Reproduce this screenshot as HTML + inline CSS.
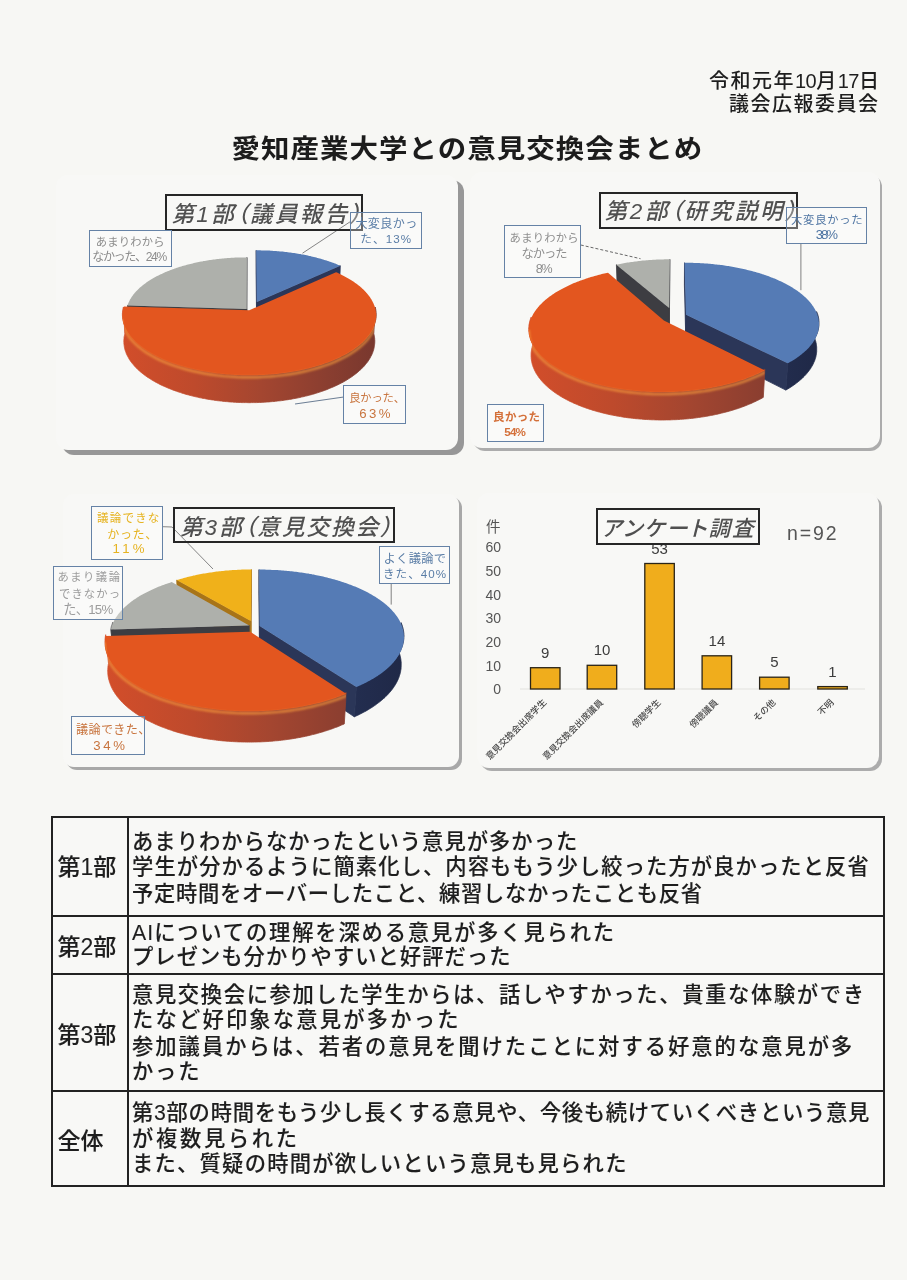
<!DOCTYPE html>
<html lang="ja"><head><meta charset="utf-8"><title>愛知産業大学との意見交換会まとめ</title>
<style>
html,body{margin:0;padding:0}
body{width:907px;height:1280px;position:relative;overflow:hidden;background:#f7f7f4;font-family:"Liberation Sans","Noto Sans CJK JP",sans-serif;color:#1e1e1e}
.a{position:absolute;white-space:nowrap}
.hdr{font-size:20px;line-height:1;color:#1e1e1e;letter-spacing:1.5px;font-weight:500}
.ttl{font-size:28.5px;font-weight:bold;line-height:1;color:#1c1c1c;letter-spacing:1.0px;transform:scaleY(0.92);transform-origin:0 0}
.panel{position:absolute;border-radius:12px;background:#f8f8f6}
.ctitle{position:absolute;border:2px solid #262626;box-sizing:border-box;font-style:italic;font-weight:500;color:#505050;font-size:22.5px;line-height:1;letter-spacing:3px;font-feature-settings:"palt"}
.ctitle span{position:absolute;white-space:nowrap}
.lbl{position:absolute;border:1.5px solid #6582a6;box-sizing:border-box;background:rgba(255,255,255,0.3)}
.lt{position:absolute;white-space:nowrap;line-height:1;font-family:"Liberation Sans","Noto Sans CJK JP",sans-serif}
.tb{position:absolute;font-size:21.3px;line-height:1;color:#1e1e1e;font-weight:500;-webkit-text-stroke:0.1px #1e1e1e}
.hd{position:absolute;font-size:23px;line-height:1;color:#1e1e1e;font-weight:500;-webkit-text-stroke:0.1px #1e1e1e}
.ln{position:absolute;background:#222}
</style></head>
<body>
<div class="a hdr" style="left:709px;top:71px">令和元年<span style="letter-spacing:-0.5px">10</span>月<span style="letter-spacing:-0.5px">17</span>日</div>
<div class="a hdr" style="left:729px;top:93.5px">議会広報委員会</div>
<div class="a ttl" style="left:231.5px;top:135.5px">愛知産業大学との意見交換会まとめ</div>

<!-- panels -->
<div class="panel" style="left:62px;top:180px;width:401.5px;height:274.5px;background:#979797;border-radius:12px"></div>
<div class="panel" style="left:56px;top:175px;width:401.5px;height:274.5px;border-radius:12px"></div>
<div class="panel" style="left:472.5px;top:175px;width:409.5px;height:276px;background:#acacac;border-radius:12px"></div>
<div class="panel" style="left:470px;top:172px;width:409.5px;height:276px;border-radius:12px"></div>
<div class="panel" style="left:65.5px;top:496.5px;width:396px;height:273px;background:#a8a8a8;border-radius:11px"></div>
<div class="panel" style="left:63px;top:494px;width:396px;height:273px;border-radius:11px"></div>
<div class="panel" style="left:479.5px;top:495.5px;width:402px;height:275px;background:#acacac;border-radius:12px"></div>
<div class="panel" style="left:477px;top:493px;width:402px;height:275px;border-radius:12px"></div>

<svg class="a" style="left:0;top:0" width="907" height="1280" viewBox="0 0 907 1280">
<defs>
<linearGradient id="wo1" gradientUnits="userSpaceOnUse" x1="115" y1="0" x2="380" y2="0"><stop offset="0" stop-color="#d44e2a"/><stop offset="0.3" stop-color="#be4a2c"/><stop offset="0.55" stop-color="#a44630"/><stop offset="0.8" stop-color="#8a3e30"/><stop offset="1" stop-color="#77372e"/></linearGradient>
<linearGradient id="wb1" gradientUnits="userSpaceOnUse" x1="115" y1="0" x2="380" y2="0"><stop offset="0" stop-color="#34446e"/><stop offset="0.5" stop-color="#2a3760"/><stop offset="1" stop-color="#1f2846"/></linearGradient>
<linearGradient id="wg1" gradientUnits="userSpaceOnUse" x1="115" y1="0" x2="380" y2="0"><stop offset="0" stop-color="#707070"/><stop offset="1" stop-color="#454545"/></linearGradient>
<linearGradient id="wy1" gradientUnits="userSpaceOnUse" x1="115" y1="0" x2="380" y2="0"><stop offset="0" stop-color="#c88a14"/><stop offset="1" stop-color="#9a6a10"/></linearGradient>

<linearGradient id="wo2" gradientUnits="userSpaceOnUse" x1="520" y1="0" x2="825" y2="0"><stop offset="0" stop-color="#d44e2a"/><stop offset="0.3" stop-color="#be4a2c"/><stop offset="0.55" stop-color="#a44630"/><stop offset="0.8" stop-color="#8a3e30"/><stop offset="1" stop-color="#77372e"/></linearGradient>
<linearGradient id="wb2" gradientUnits="userSpaceOnUse" x1="520" y1="0" x2="825" y2="0"><stop offset="0" stop-color="#34446e"/><stop offset="0.5" stop-color="#2a3760"/><stop offset="1" stop-color="#1f2846"/></linearGradient>
<linearGradient id="wg2" gradientUnits="userSpaceOnUse" x1="520" y1="0" x2="825" y2="0"><stop offset="0" stop-color="#707070"/><stop offset="1" stop-color="#454545"/></linearGradient>
<linearGradient id="wy2" gradientUnits="userSpaceOnUse" x1="520" y1="0" x2="825" y2="0"><stop offset="0" stop-color="#c88a14"/><stop offset="1" stop-color="#9a6a10"/></linearGradient>

<linearGradient id="wo3" gradientUnits="userSpaceOnUse" x1="100" y1="0" x2="410" y2="0"><stop offset="0" stop-color="#d44e2a"/><stop offset="0.3" stop-color="#be4a2c"/><stop offset="0.55" stop-color="#a44630"/><stop offset="0.8" stop-color="#8a3e30"/><stop offset="1" stop-color="#77372e"/></linearGradient>
<linearGradient id="wb3" gradientUnits="userSpaceOnUse" x1="100" y1="0" x2="410" y2="0"><stop offset="0" stop-color="#34446e"/><stop offset="0.5" stop-color="#2a3760"/><stop offset="1" stop-color="#1f2846"/></linearGradient>
<linearGradient id="wg3" gradientUnits="userSpaceOnUse" x1="100" y1="0" x2="410" y2="0"><stop offset="0" stop-color="#707070"/><stop offset="1" stop-color="#454545"/></linearGradient>
<linearGradient id="wy3" gradientUnits="userSpaceOnUse" x1="100" y1="0" x2="410" y2="0"><stop offset="0" stop-color="#c88a14"/><stop offset="1" stop-color="#9a6a10"/></linearGradient>
<filter id="blur1" x="-5%" y="-50%" width="110%" height="200%"><feGaussianBlur stdDeviation="0.8"/></filter></defs>
<polygon points="256.8,302.1 256.2,250.3 256.1,274.1 256.7,327.5" fill="#2b3658" stroke="#2b3658" stroke-width="0.8" stroke-linejoin="round"/>
<polygon points="256.8,302.1 340.3,265.7 339.4,290.0 256.7,327.5" fill="#2b3658" stroke="#2b3658" stroke-width="0.8" stroke-linejoin="round"/>
<polygon points="256.8,302.1 256.2,250.3 257.5,250.3 258.9,250.3 260.2,250.3 261.5,250.4 262.8,250.4 264.2,250.4 265.5,250.5 266.8,250.5 268.1,250.6 269.5,250.6 270.8,250.7 272.1,250.8 273.4,250.9 274.7,251.0 276.1,251.1 277.4,251.2 278.7,251.3 280.0,251.4 281.3,251.5 282.6,251.6 283.9,251.8 285.2,251.9 286.5,252.1 287.8,252.2 289.1,252.4 290.3,252.6 291.6,252.7 292.9,252.9 294.2,253.1 295.4,253.3 296.7,253.5 298.0,253.7 299.2,253.9 300.5,254.1 301.7,254.4 303.0,254.6 304.2,254.8 305.4,255.1 306.7,255.3 307.9,255.6 309.1,255.9 310.3,256.1 311.5,256.4 312.7,256.7 313.9,257.0 315.1,257.3 316.3,257.6 317.4,257.9 318.6,258.2 319.8,258.5 320.9,258.8 322.1,259.2 323.2,259.5 324.3,259.9 325.5,260.2 326.6,260.6 327.7,260.9 328.8,261.3 329.9,261.7 331.0,262.0 332.0,262.4 333.1,262.8 334.2,263.2 335.2,263.6 336.3,264.0 337.3,264.4 338.3,264.9 339.3,265.3 340.3,265.7" fill="#557bb5"/>
<polygon points="246.7,308.9 127.5,305.4 128.8,330.8 246.7,334.4" fill="#3d3d42" stroke="#3d3d42" stroke-width="0.8" stroke-linejoin="round"/>
<polygon points="246.7,308.9 246.9,257.4 246.9,281.4 246.7,334.4" fill="#3d3d42" stroke="#3d3d42" stroke-width="0.8" stroke-linejoin="round"/>
<polygon points="246.7,308.9 127.5,305.4 127.7,304.7 128.0,304.1 128.2,303.4 128.5,302.8 128.8,302.2 129.1,301.5 129.4,300.9 129.7,300.2 130.0,299.6 130.4,299.0 130.8,298.4 131.2,297.7 131.6,297.1 132.0,296.5 132.4,295.9 132.9,295.3 133.4,294.6 133.8,294.0 134.3,293.4 134.8,292.8 135.4,292.2 135.9,291.6 136.5,291.0 137.0,290.5 137.6,289.9 138.2,289.3 138.8,288.7 139.4,288.1 140.0,287.6 140.7,287.0 141.3,286.5 142.0,285.9 142.7,285.3 143.4,284.8 144.1,284.2 144.8,283.7 145.6,283.2 146.3,282.6 147.1,282.1 147.8,281.6 148.6,281.1 149.4,280.6 150.2,280.0 151.0,279.5 151.9,279.0 152.7,278.5 153.5,278.1 154.4,277.6 155.3,277.1 156.2,276.6 157.0,276.1 158.0,275.7 158.9,275.2 159.8,274.8 160.7,274.3 161.7,273.9 162.6,273.4 163.6,273.0 164.6,272.6 165.5,272.1 166.5,271.7 167.5,271.3 168.5,270.9 169.6,270.5 170.6,270.1 171.6,269.7 172.7,269.3 173.7,268.9 174.8,268.6 175.8,268.2 176.9,267.8 178.0,267.5 179.1,267.1 180.2,266.8 181.3,266.4 182.4,266.1 183.5,265.8 184.7,265.5 185.8,265.2 186.9,264.8 188.1,264.5 189.2,264.2 190.4,263.9 191.6,263.7 192.7,263.4 193.9,263.1 195.1,262.8 196.3,262.6 197.5,262.3 198.7,262.1 199.9,261.8 201.1,261.6 202.3,261.4 203.5,261.1 204.8,260.9 206.0,260.7 207.2,260.5 208.5,260.3 209.7,260.1 210.9,259.9 212.2,259.8 213.4,259.6 214.7,259.4 216.0,259.3 217.2,259.1 218.5,259.0 219.8,258.8 221.0,258.7 222.3,258.6 223.6,258.4 224.9,258.3 226.2,258.2 227.4,258.1 228.7,258.0 230.0,257.9 231.3,257.8 232.6,257.8 233.9,257.7 235.2,257.6 236.5,257.6 237.8,257.5 239.1,257.5 240.4,257.5 241.7,257.4 243.0,257.4 244.3,257.4 245.6,257.4 246.9,257.4" fill="#aeb0ab"/>
<polygon points="375.2,307.0 375.4,307.6 375.5,308.3 375.7,309.0 375.8,309.7 375.9,310.4 376.0,311.1 376.1,311.8 376.1,312.5 376.2,313.2 376.2,313.9 376.2,314.6 376.2,315.3 376.2,316.0 376.1,316.7 376.1,317.4 376.0,318.1 375.9,318.8 375.8,319.5 375.6,320.2 375.5,320.9 375.3,321.6 375.1,322.3 374.9,323.0 374.7,323.7 374.5,324.4 374.2,325.1 373.9,325.8 373.6,326.5 373.3,327.2 373.0,327.9 372.6,328.6 372.3,329.3 371.9,330.0 371.5,330.7 371.0,331.3 370.6,332.0 370.1,332.7 369.7,333.4 369.2,334.1 368.7,334.8 368.1,335.4 367.6,336.1 367.0,336.8 366.4,337.5 365.8,338.1 365.2,338.8 364.6,339.4 363.9,340.1 363.2,340.8 362.5,341.4 361.8,342.1 361.1,342.7 360.4,343.3 359.6,344.0 358.8,344.6 358.0,345.2 357.2,345.9 356.4,346.5 355.5,347.1 354.7,347.7 353.8,348.3 352.9,348.9 352.0,349.5 351.1,350.1 350.1,350.7 349.2,351.3 348.2,351.9 347.2,352.4 346.2,353.0 345.1,353.6 344.1,354.1 343.0,354.7 342.0,355.2 340.9,355.8 339.8,356.3 338.7,356.8 337.5,357.3 336.4,357.9 335.2,358.4 334.0,358.9 332.8,359.4 331.6,359.9 330.4,360.3 329.2,360.8 327.9,361.3 326.7,361.7 325.4,362.2 324.1,362.6 322.8,363.1 321.5,363.5 320.2,363.9 318.9,364.4 317.5,364.8 316.2,365.2 314.8,365.6 313.4,365.9 312.0,366.3 310.6,366.7 309.2,367.0 307.8,367.4 306.3,367.7 304.9,368.1 303.4,368.4 302.0,368.7 300.5,369.0 299.0,369.3 297.5,369.6 296.0,369.9 294.5,370.2 293.0,370.5 291.5,370.7 290.0,371.0 288.4,371.2 286.9,371.4 285.3,371.7 283.8,371.9 282.2,372.1 280.7,372.3 279.1,372.4 277.5,372.6 275.9,372.8 274.3,372.9 272.7,373.1 271.1,373.2 269.5,373.3 267.9,373.5 266.3,373.6 264.7,373.7 263.1,373.7 261.5,373.8 259.9,373.9 258.2,374.0 256.6,374.0 255.0,374.0 253.4,374.1 251.7,374.1 250.1,374.1 248.5,374.1 246.9,374.1 245.2,374.1 243.6,374.0 242.0,374.0 240.4,374.0 238.8,373.9 237.1,373.8 235.5,373.7 233.9,373.7 232.3,373.6 230.7,373.5 229.1,373.3 227.5,373.2 225.9,373.1 224.3,372.9 222.7,372.8 221.1,372.6 219.5,372.4 218.0,372.3 216.4,372.1 214.8,371.9 213.3,371.7 211.7,371.4 210.2,371.2 208.7,371.0 207.1,370.7 205.6,370.5 204.1,370.2 202.6,369.9 201.1,369.6 199.6,369.3 198.1,369.0 196.6,368.7 195.2,368.4 193.7,368.1 192.3,367.7 190.8,367.4 189.4,367.0 188.0,366.7 186.6,366.3 185.2,365.9 183.8,365.6 182.5,365.2 181.1,364.8 179.8,364.4 178.4,363.9 177.1,363.5 175.8,363.1 174.5,362.6 173.2,362.2 171.9,361.7 170.7,361.3 169.4,360.8 168.2,360.3 167.0,359.9 165.8,359.4 164.6,358.9 163.4,358.4 162.2,357.9 161.1,357.3 160.0,356.8 158.8,356.3 157.7,355.8 156.7,355.2 155.6,354.7 154.5,354.1 153.5,353.6 152.5,353.0 151.4,352.4 150.4,351.9 149.5,351.3 148.5,350.7 147.6,350.1 146.6,349.5 145.7,348.9 144.8,348.3 143.9,347.7 143.1,347.1 142.2,346.5 141.4,345.9 140.6,345.2 139.8,344.6 139.0,344.0 138.3,343.3 137.5,342.7 136.8,342.1 136.1,341.4 135.4,340.8 134.7,340.1 134.1,339.4 133.4,338.8 132.8,338.1 132.2,337.5 131.6,336.8 131.0,336.1 130.5,335.4 130.0,334.8 129.5,334.1 129.0,333.4 128.5,332.7 128.0,332.0 127.6,331.3 127.2,330.7 126.8,330.0 126.4,329.3 126.0,328.6 125.7,327.9 125.3,327.2 125.0,326.5 124.7,325.8 124.4,325.1 124.2,324.4 123.9,323.7 123.7,323.0 123.5,322.3 123.3,321.6 123.1,320.9 123.0,320.2 122.9,319.5 122.7,318.8 122.6,318.1 122.6,317.4 122.5,316.7 122.5,316.0 122.4,315.3 122.4,314.6 122.4,313.9 122.4,313.2 122.5,312.5 122.5,311.8 122.6,311.1 122.7,310.4 122.8,309.7 123.0,309.0 123.1,308.3 123.3,307.6 123.4,307.0 124.8,333.7 124.7,334.4 124.5,335.1 124.4,335.8 124.2,336.5 124.1,337.2 124.0,337.9 124.0,338.7 123.9,339.4 123.9,340.1 123.8,340.8 123.8,341.5 123.9,342.2 123.9,343.0 123.9,343.7 124.0,344.4 124.1,345.1 124.2,345.8 124.3,346.6 124.4,347.3 124.6,348.0 124.7,348.7 124.9,349.5 125.1,350.2 125.4,350.9 125.6,351.6 125.9,352.3 126.1,353.1 126.4,353.8 126.7,354.5 127.1,355.2 127.4,355.9 127.8,356.6 128.2,357.3 128.6,358.0 129.0,358.8 129.4,359.5 129.9,360.2 130.4,360.9 130.8,361.6 131.4,362.3 131.9,363.0 132.4,363.6 133.0,364.3 133.6,365.0 134.2,365.7 134.8,366.4 135.4,367.1 136.1,367.7 136.7,368.4 137.4,369.1 138.1,369.8 138.8,370.4 139.6,371.1 140.3,371.7 141.1,372.4 141.9,373.0 142.7,373.7 143.5,374.3 144.3,374.9 145.2,375.6 146.1,376.2 146.9,376.8 147.8,377.4 148.8,378.0 149.7,378.6 150.7,379.2 151.6,379.8 152.6,380.4 153.6,381.0 154.6,381.6 155.7,382.2 156.7,382.7 157.8,383.3 158.8,383.8 159.9,384.4 161.0,384.9 162.2,385.5 163.3,386.0 164.4,386.5 165.6,387.0 166.8,387.5 168.0,388.0 169.2,388.5 170.4,389.0 171.6,389.5 172.9,390.0 174.1,390.4 175.4,390.9 176.7,391.3 178.0,391.8 179.3,392.2 180.6,392.6 181.9,393.1 183.3,393.5 184.6,393.9 186.0,394.3 187.4,394.7 188.8,395.0 190.2,395.4 191.6,395.8 193.0,396.1 194.4,396.5 195.8,396.8 197.3,397.1 198.7,397.5 200.2,397.8 201.7,398.1 203.2,398.4 204.6,398.6 206.1,398.9 207.6,399.2 209.2,399.4 210.7,399.7 212.2,399.9 213.7,400.1 215.3,400.4 216.8,400.6 218.4,400.8 219.9,400.9 221.5,401.1 223.0,401.3 224.6,401.5 226.2,401.6 227.8,401.7 229.3,401.9 230.9,402.0 232.5,402.1 234.1,402.2 235.7,402.3 237.3,402.4 238.9,402.4 240.5,402.5 242.1,402.6 243.7,402.6 245.3,402.6 246.9,402.6 248.5,402.7 250.1,402.7 251.7,402.6 253.3,402.6 254.9,402.6 256.5,402.6 258.1,402.5 259.7,402.4 261.3,402.4 262.9,402.3 264.5,402.2 266.1,402.1 267.7,402.0 269.3,401.9 270.9,401.7 272.4,401.6 274.0,401.5 275.6,401.3 277.2,401.1 278.7,400.9 280.3,400.8 281.8,400.6 283.4,400.4 284.9,400.1 286.4,399.9 288.0,399.7 289.5,399.4 291.0,399.2 292.5,398.9 294.0,398.6 295.5,398.4 296.9,398.1 298.4,397.8 299.9,397.5 301.3,397.1 302.8,396.8 304.2,396.5 305.6,396.1 307.1,395.8 308.5,395.4 309.9,395.0 311.3,394.7 312.6,394.3 314.0,393.9 315.3,393.5 316.7,393.1 318.0,392.6 319.3,392.2 320.6,391.8 321.9,391.3 323.2,390.9 324.5,390.4 325.8,390.0 327.0,389.5 328.2,389.0 329.4,388.5 330.6,388.0 331.8,387.5 333.0,387.0 334.2,386.5 335.3,386.0 336.5,385.5 337.6,384.9 338.7,384.4 339.8,383.8 340.9,383.3 341.9,382.7 343.0,382.2 344.0,381.6 345.0,381.0 346.0,380.4 347.0,379.8 348.0,379.2 348.9,378.6 349.9,378.0 350.8,377.4 351.7,376.8 352.6,376.2 353.4,375.6 354.3,374.9 355.1,374.3 355.9,373.7 356.8,373.0 357.5,372.4 358.3,371.7 359.1,371.1 359.8,370.4 360.5,369.8 361.2,369.1 361.9,368.4 362.6,367.7 363.2,367.1 363.9,366.4 364.5,365.7 365.1,365.0 365.6,364.3 366.2,363.6 366.7,363.0 367.3,362.3 367.8,361.6 368.3,360.9 368.7,360.2 369.2,359.5 369.6,358.8 370.1,358.0 370.5,357.3 370.8,356.6 371.2,355.9 371.6,355.2 371.9,354.5 372.2,353.8 372.5,353.1 372.8,352.3 373.0,351.6 373.3,350.9 373.5,350.2 373.7,349.5 373.9,348.7 374.0,348.0 374.2,347.3 374.3,346.6 374.4,345.8 374.5,345.1 374.6,344.4 374.7,343.7 374.7,343.0 374.8,342.2 374.8,341.5 374.8,340.8 374.8,340.1 374.7,339.4 374.7,338.7 374.6,337.9 374.5,337.2 374.4,336.5 374.3,335.8 374.1,335.1 374.0,334.4 373.8,333.7" fill="url(#wo1)" stroke="url(#wo1)" stroke-width="0.8"/>
<polygon points="249.3,310.2 336.0,272.2 337.0,272.6 338.0,273.1 339.0,273.5 339.9,274.0 340.9,274.5 341.9,274.9 342.8,275.4 343.8,275.9 344.7,276.4 345.6,276.9 346.5,277.4 347.4,277.9 348.3,278.4 349.2,278.9 350.0,279.4 350.9,280.0 351.7,280.5 352.5,281.0 353.3,281.6 354.1,282.1 354.9,282.7 355.7,283.2 356.5,283.8 357.2,284.3 358.0,284.9 358.7,285.5 359.4,286.1 360.1,286.6 360.8,287.2 361.5,287.8 362.1,288.4 362.8,289.0 363.4,289.6 364.0,290.2 364.6,290.8 365.2,291.4 365.8,292.0 366.3,292.7 366.9,293.3 367.4,293.9 367.9,294.5 368.4,295.2 368.9,295.8 369.4,296.5 369.9,297.1 370.3,297.7 370.7,298.4 371.2,299.1 371.6,299.7 371.9,300.4 372.3,301.0 372.6,301.7 373.0,302.4 373.3,303.0 373.6,303.7 373.9,304.4 374.2,305.0 374.4,305.7 374.7,306.4 374.9,307.1 375.1,307.8 375.3,308.4 375.4,309.1 375.6,309.8 375.7,310.5 375.8,311.2 376.0,311.9 376.0,312.6 376.1,313.3 376.2,314.0 376.2,314.7 376.2,315.4 376.2,316.1 376.2,316.8 376.2,317.5 376.1,318.2 376.0,318.9 375.9,319.6 375.8,320.3 375.7,321.0 375.6,321.7 375.4,322.4 375.2,323.1 375.0,323.8 374.8,324.5 374.6,325.2 374.3,325.9 374.1,326.6 373.8,327.3 373.5,328.0 373.2,328.7 372.8,329.4 372.5,330.1 372.1,330.8 371.7,331.5 371.3,332.1 370.9,332.8 370.4,333.5 369.9,334.2 369.5,334.9 369.0,335.6 368.4,336.2 367.9,336.9 367.3,337.6 366.8,338.3 366.2,338.9 365.6,339.6 364.9,340.3 364.3,340.9 363.6,341.6 363.0,342.2 362.3,342.9 361.5,343.5 360.8,344.2 360.1,344.8 359.3,345.4 358.5,346.1 357.7,346.7 356.9,347.3 356.0,347.9 355.2,348.6 354.3,349.2 353.4,349.8 352.5,350.4 351.6,351.0 350.7,351.6 349.7,352.1 348.8,352.7 347.8,353.3 346.8,353.9 345.7,354.4 344.7,355.0 343.7,355.6 342.6,356.1 341.5,356.6 340.4,357.2 339.3,357.7 338.2,358.2 337.1,358.8 335.9,359.3 334.7,359.8 333.6,360.3 332.4,360.8 331.1,361.3 329.9,361.7 328.7,362.2 327.4,362.7 326.2,363.1 324.9,363.6 323.6,364.0 322.3,364.5 321.0,364.9 319.7,365.3 318.3,365.7 317.0,366.1 315.6,366.5 314.2,366.9 312.8,367.3 311.4,367.7 310.0,368.0 308.6,368.4 307.2,368.7 305.8,369.1 304.3,369.4 302.8,369.7 301.4,370.1 299.9,370.4 298.4,370.7 296.9,370.9 295.4,371.2 293.9,371.5 292.4,371.8 290.9,372.0 289.3,372.3 287.8,372.5 286.3,372.7 284.7,372.9 283.1,373.1 281.6,373.3 280.0,373.5 278.4,373.7 276.9,373.9 275.3,374.0 273.7,374.2 272.1,374.3 270.5,374.5 268.9,374.6 267.3,374.7 265.7,374.8 264.1,374.9 262.4,375.0 260.8,375.1 259.2,375.1 257.6,375.2 256.0,375.2 254.3,375.3 252.7,375.3 251.1,375.3 249.5,375.3 247.8,375.3 246.2,375.3 244.6,375.3 243.0,375.2 241.3,375.2 239.7,375.1 238.1,375.1 236.5,375.0 234.9,374.9 233.3,374.8 231.7,374.7 230.0,374.6 228.4,374.5 226.8,374.4 225.2,374.2 223.7,374.1 222.1,373.9 220.5,373.7 218.9,373.6 217.3,373.4 215.8,373.2 214.2,373.0 212.7,372.8 211.1,372.5 209.6,372.3 208.0,372.1 206.5,371.8 205.0,371.5 203.5,371.3 202.0,371.0 200.5,370.7 199.0,370.4 197.5,370.1 196.1,369.8 194.6,369.5 193.1,369.1 191.7,368.8 190.3,368.5 188.9,368.1 187.4,367.7 186.0,367.4 184.7,367.0 183.3,366.6 181.9,366.2 180.6,365.8 179.2,365.4 177.9,365.0 176.6,364.5 175.3,364.1 174.0,363.7 172.7,363.2 171.4,362.8 170.2,362.3 168.9,361.8 167.7,361.3 166.5,360.9 165.3,360.4 164.1,359.9 162.9,359.4 161.8,358.9 160.6,358.3 159.5,357.8 158.4,357.3 157.3,356.8 156.2,356.2 155.2,355.7 154.1,355.1 153.1,354.6 152.0,354.0 151.0,353.4 150.1,352.8 149.1,352.3 148.1,351.7 147.2,351.1 146.3,350.5 145.4,349.9 144.5,349.3 143.6,348.7 142.7,348.1 141.9,347.4 141.1,346.8 140.3,346.2 139.5,345.6 138.7,344.9 138.0,344.3 137.2,343.6 136.5,343.0 135.8,342.3 135.1,341.7 134.4,341.0 133.8,340.4 133.2,339.7 132.6,339.1 132.0,338.4 131.4,337.7 130.8,337.0 130.3,336.4 129.8,335.7 129.3,335.0 128.8,334.3 128.3,333.6 127.8,333.0 127.4,332.3 127.0,331.6 126.6,330.9 126.2,330.2 125.9,329.5 125.5,328.8 125.2,328.1 124.9,327.4 124.6,326.7 124.3,326.0 124.1,325.3 123.8,324.6 123.6,323.9 123.4,323.2 123.2,322.5 123.1,321.8 122.9,321.1 122.8,320.4 122.7,319.7 122.6,319.0 122.5,318.3 122.5,317.6 122.4,316.9 122.4,316.2 122.4,315.5 122.4,314.8 122.5,314.1 122.5,313.4 122.6,312.7 122.7,312.0 122.8,311.3 122.9,310.6 123.0,310.0 123.2,309.3 123.3,308.6 123.5,307.9 123.7,307.2 123.9,306.5" fill="#e3561f"/>

<clipPath id="cw1orange"><polygon points="375.2,307.0 375.4,307.6 375.5,308.3 375.7,309.0 375.8,309.7 375.9,310.4 376.0,311.1 376.1,311.8 376.1,312.5 376.2,313.2 376.2,313.9 376.2,314.6 376.2,315.3 376.2,316.0 376.1,316.7 376.1,317.4 376.0,318.1 375.9,318.8 375.8,319.5 375.6,320.2 375.5,320.9 375.3,321.6 375.1,322.3 374.9,323.0 374.7,323.7 374.5,324.4 374.2,325.1 373.9,325.8 373.6,326.5 373.3,327.2 373.0,327.9 372.6,328.6 372.3,329.3 371.9,330.0 371.5,330.7 371.0,331.3 370.6,332.0 370.1,332.7 369.7,333.4 369.2,334.1 368.7,334.8 368.1,335.4 367.6,336.1 367.0,336.8 366.4,337.5 365.8,338.1 365.2,338.8 364.6,339.4 363.9,340.1 363.2,340.8 362.5,341.4 361.8,342.1 361.1,342.7 360.4,343.3 359.6,344.0 358.8,344.6 358.0,345.2 357.2,345.9 356.4,346.5 355.5,347.1 354.7,347.7 353.8,348.3 352.9,348.9 352.0,349.5 351.1,350.1 350.1,350.7 349.2,351.3 348.2,351.9 347.2,352.4 346.2,353.0 345.1,353.6 344.1,354.1 343.0,354.7 342.0,355.2 340.9,355.8 339.8,356.3 338.7,356.8 337.5,357.3 336.4,357.9 335.2,358.4 334.0,358.9 332.8,359.4 331.6,359.9 330.4,360.3 329.2,360.8 327.9,361.3 326.7,361.7 325.4,362.2 324.1,362.6 322.8,363.1 321.5,363.5 320.2,363.9 318.9,364.4 317.5,364.8 316.2,365.2 314.8,365.6 313.4,365.9 312.0,366.3 310.6,366.7 309.2,367.0 307.8,367.4 306.3,367.7 304.9,368.1 303.4,368.4 302.0,368.7 300.5,369.0 299.0,369.3 297.5,369.6 296.0,369.9 294.5,370.2 293.0,370.5 291.5,370.7 290.0,371.0 288.4,371.2 286.9,371.4 285.3,371.7 283.8,371.9 282.2,372.1 280.7,372.3 279.1,372.4 277.5,372.6 275.9,372.8 274.3,372.9 272.7,373.1 271.1,373.2 269.5,373.3 267.9,373.5 266.3,373.6 264.7,373.7 263.1,373.7 261.5,373.8 259.9,373.9 258.2,374.0 256.6,374.0 255.0,374.0 253.4,374.1 251.7,374.1 250.1,374.1 248.5,374.1 246.9,374.1 245.2,374.1 243.6,374.0 242.0,374.0 240.4,374.0 238.8,373.9 237.1,373.8 235.5,373.7 233.9,373.7 232.3,373.6 230.7,373.5 229.1,373.3 227.5,373.2 225.9,373.1 224.3,372.9 222.7,372.8 221.1,372.6 219.5,372.4 218.0,372.3 216.4,372.1 214.8,371.9 213.3,371.7 211.7,371.4 210.2,371.2 208.7,371.0 207.1,370.7 205.6,370.5 204.1,370.2 202.6,369.9 201.1,369.6 199.6,369.3 198.1,369.0 196.6,368.7 195.2,368.4 193.7,368.1 192.3,367.7 190.8,367.4 189.4,367.0 188.0,366.7 186.6,366.3 185.2,365.9 183.8,365.6 182.5,365.2 181.1,364.8 179.8,364.4 178.4,363.9 177.1,363.5 175.8,363.1 174.5,362.6 173.2,362.2 171.9,361.7 170.7,361.3 169.4,360.8 168.2,360.3 167.0,359.9 165.8,359.4 164.6,358.9 163.4,358.4 162.2,357.9 161.1,357.3 160.0,356.8 158.8,356.3 157.7,355.8 156.7,355.2 155.6,354.7 154.5,354.1 153.5,353.6 152.5,353.0 151.4,352.4 150.4,351.9 149.5,351.3 148.5,350.7 147.6,350.1 146.6,349.5 145.7,348.9 144.8,348.3 143.9,347.7 143.1,347.1 142.2,346.5 141.4,345.9 140.6,345.2 139.8,344.6 139.0,344.0 138.3,343.3 137.5,342.7 136.8,342.1 136.1,341.4 135.4,340.8 134.7,340.1 134.1,339.4 133.4,338.8 132.8,338.1 132.2,337.5 131.6,336.8 131.0,336.1 130.5,335.4 130.0,334.8 129.5,334.1 129.0,333.4 128.5,332.7 128.0,332.0 127.6,331.3 127.2,330.7 126.8,330.0 126.4,329.3 126.0,328.6 125.7,327.9 125.3,327.2 125.0,326.5 124.7,325.8 124.4,325.1 124.2,324.4 123.9,323.7 123.7,323.0 123.5,322.3 123.3,321.6 123.1,320.9 123.0,320.2 122.9,319.5 122.7,318.8 122.6,318.1 122.6,317.4 122.5,316.7 122.5,316.0 122.4,315.3 122.4,314.6 122.4,313.9 122.4,313.2 122.5,312.5 122.5,311.8 122.6,311.1 122.7,310.4 122.8,309.7 123.0,309.0 123.1,308.3 123.3,307.6 123.4,307.0 124.8,333.7 124.7,334.4 124.5,335.1 124.4,335.8 124.2,336.5 124.1,337.2 124.0,337.9 124.0,338.7 123.9,339.4 123.9,340.1 123.8,340.8 123.8,341.5 123.9,342.2 123.9,343.0 123.9,343.7 124.0,344.4 124.1,345.1 124.2,345.8 124.3,346.6 124.4,347.3 124.6,348.0 124.7,348.7 124.9,349.5 125.1,350.2 125.4,350.9 125.6,351.6 125.9,352.3 126.1,353.1 126.4,353.8 126.7,354.5 127.1,355.2 127.4,355.9 127.8,356.6 128.2,357.3 128.6,358.0 129.0,358.8 129.4,359.5 129.9,360.2 130.4,360.9 130.8,361.6 131.4,362.3 131.9,363.0 132.4,363.6 133.0,364.3 133.6,365.0 134.2,365.7 134.8,366.4 135.4,367.1 136.1,367.7 136.7,368.4 137.4,369.1 138.1,369.8 138.8,370.4 139.6,371.1 140.3,371.7 141.1,372.4 141.9,373.0 142.7,373.7 143.5,374.3 144.3,374.9 145.2,375.6 146.1,376.2 146.9,376.8 147.8,377.4 148.8,378.0 149.7,378.6 150.7,379.2 151.6,379.8 152.6,380.4 153.6,381.0 154.6,381.6 155.7,382.2 156.7,382.7 157.8,383.3 158.8,383.8 159.9,384.4 161.0,384.9 162.2,385.5 163.3,386.0 164.4,386.5 165.6,387.0 166.8,387.5 168.0,388.0 169.2,388.5 170.4,389.0 171.6,389.5 172.9,390.0 174.1,390.4 175.4,390.9 176.7,391.3 178.0,391.8 179.3,392.2 180.6,392.6 181.9,393.1 183.3,393.5 184.6,393.9 186.0,394.3 187.4,394.7 188.8,395.0 190.2,395.4 191.6,395.8 193.0,396.1 194.4,396.5 195.8,396.8 197.3,397.1 198.7,397.5 200.2,397.8 201.7,398.1 203.2,398.4 204.6,398.6 206.1,398.9 207.6,399.2 209.2,399.4 210.7,399.7 212.2,399.9 213.7,400.1 215.3,400.4 216.8,400.6 218.4,400.8 219.9,400.9 221.5,401.1 223.0,401.3 224.6,401.5 226.2,401.6 227.8,401.7 229.3,401.9 230.9,402.0 232.5,402.1 234.1,402.2 235.7,402.3 237.3,402.4 238.9,402.4 240.5,402.5 242.1,402.6 243.7,402.6 245.3,402.6 246.9,402.6 248.5,402.7 250.1,402.7 251.7,402.6 253.3,402.6 254.9,402.6 256.5,402.6 258.1,402.5 259.7,402.4 261.3,402.4 262.9,402.3 264.5,402.2 266.1,402.1 267.7,402.0 269.3,401.9 270.9,401.7 272.4,401.6 274.0,401.5 275.6,401.3 277.2,401.1 278.7,400.9 280.3,400.8 281.8,400.6 283.4,400.4 284.9,400.1 286.4,399.9 288.0,399.7 289.5,399.4 291.0,399.2 292.5,398.9 294.0,398.6 295.5,398.4 296.9,398.1 298.4,397.8 299.9,397.5 301.3,397.1 302.8,396.8 304.2,396.5 305.6,396.1 307.1,395.8 308.5,395.4 309.9,395.0 311.3,394.7 312.6,394.3 314.0,393.9 315.3,393.5 316.7,393.1 318.0,392.6 319.3,392.2 320.6,391.8 321.9,391.3 323.2,390.9 324.5,390.4 325.8,390.0 327.0,389.5 328.2,389.0 329.4,388.5 330.6,388.0 331.8,387.5 333.0,387.0 334.2,386.5 335.3,386.0 336.5,385.5 337.6,384.9 338.7,384.4 339.8,383.8 340.9,383.3 341.9,382.7 343.0,382.2 344.0,381.6 345.0,381.0 346.0,380.4 347.0,379.8 348.0,379.2 348.9,378.6 349.9,378.0 350.8,377.4 351.7,376.8 352.6,376.2 353.4,375.6 354.3,374.9 355.1,374.3 355.9,373.7 356.8,373.0 357.5,372.4 358.3,371.7 359.1,371.1 359.8,370.4 360.5,369.8 361.2,369.1 361.9,368.4 362.6,367.7 363.2,367.1 363.9,366.4 364.5,365.7 365.1,365.0 365.6,364.3 366.2,363.6 366.7,363.0 367.3,362.3 367.8,361.6 368.3,360.9 368.7,360.2 369.2,359.5 369.6,358.8 370.1,358.0 370.5,357.3 370.8,356.6 371.2,355.9 371.6,355.2 371.9,354.5 372.2,353.8 372.5,353.1 372.8,352.3 373.0,351.6 373.3,350.9 373.5,350.2 373.7,349.5 373.9,348.7 374.0,348.0 374.2,347.3 374.3,346.6 374.4,345.8 374.5,345.1 374.6,344.4 374.7,343.7 374.7,343.0 374.8,342.2 374.8,341.5 374.8,340.8 374.8,340.1 374.7,339.4 374.7,338.7 374.6,337.9 374.5,337.2 374.4,336.5 374.3,335.8 374.1,335.1 374.0,334.4 373.8,333.7"/></clipPath>
<polyline clip-path="url(#cw1orange)" points="375.8,322.6 375.1,325.5 374.2,328.4 372.9,331.3 371.3,334.1 369.4,336.9 367.3,339.7 364.8,342.4 362.0,345.1 358.9,347.7 355.6,350.3 351.9,352.8 348.0,355.2 343.8,357.5 339.3,359.7 334.6,361.8 329.7,363.8 324.5,365.7 319.1,367.5 313.5,369.1 307.8,370.6 301.8,372.0 295.7,373.2 289.5,374.2 283.1,375.1 276.7,375.9 270.1,376.5 263.5,376.9 256.9,377.2 250.2,377.3 243.5,377.2 236.9,377.0 230.3,376.6 223.7,376.1 217.2,375.4 210.9,374.5 204.6,373.5 198.5,372.3 192.5,371.0 186.6,369.5 181.0,367.9 175.5,366.2 170.3,364.3 165.3,362.4 160.5,360.3 156.0,358.1 151.7,355.8 147.7,353.4 144.0,351.0 140.6,348.4 137.4,345.8 134.6,343.2 132.0,340.4 129.7,337.7 127.8,334.9 126.1,332.0 124.8,329.2 123.7,326.3 123.0,323.4 122.6,320.5" fill="none" stroke="#f49a3c" stroke-width="2.4" stroke-opacity="0.75" stroke-linecap="round" filter="url(#blur1)"/>
<polygon points="669.2,307.9 616.4,264.7 617.2,287.2 669.2,332.3" fill="#3d3d42" stroke="#3d3d42" stroke-width="0.8" stroke-linejoin="round"/>
<polygon points="669.2,307.9 669.8,259.3 669.8,281.5 669.2,332.3" fill="#3d3d42" stroke="#3d3d42" stroke-width="0.8" stroke-linejoin="round"/>
<polygon points="669.2,307.9 616.4,264.7 617.6,264.4 618.8,264.2 620.1,263.9 621.3,263.7 622.5,263.5 623.7,263.2 624.9,263.0 626.2,262.8 627.4,262.6 628.7,262.4 629.9,262.2 631.2,262.0 632.4,261.9 633.7,261.7 634.9,261.5 636.2,261.4 637.5,261.2 638.7,261.0 640.0,260.9 641.3,260.8 642.6,260.6 643.8,260.5 645.1,260.4 646.4,260.3 647.7,260.2 649.0,260.1 650.3,260.0 651.6,259.9 652.9,259.8 654.2,259.7 655.4,259.7 656.7,259.6 658.0,259.5 659.3,259.5 660.6,259.4 661.9,259.4 663.3,259.4 664.6,259.3 665.9,259.3 667.2,259.3 668.5,259.3 669.8,259.3" fill="#aeb0ab"/>
<polygon points="816.6,311.6 816.9,312.3 817.2,313.0 817.4,313.7 817.7,314.4 817.9,315.1 818.1,315.8 818.3,316.5 818.4,317.2 818.6,318.0 818.7,318.7 818.8,319.4 818.9,320.1 818.9,320.8 819.0,321.6 819.0,322.3 819.0,323.0 819.0,323.7 819.0,324.5 819.0,325.2 818.9,325.9 818.8,326.7 818.7,327.4 818.6,328.1 818.4,328.9 818.3,329.6 818.1,330.3 817.9,331.1 817.7,331.8 817.4,332.5 817.2,333.3 816.9,334.0 816.6,334.7 816.3,335.5 815.9,336.2 815.5,336.9 815.2,337.7 814.8,338.4 814.3,339.1 813.9,339.8 813.4,340.6 812.9,341.3 812.4,342.0 811.9,342.7 811.4,343.4 810.8,344.2 810.2,344.9 809.6,345.6 809.0,346.3 808.3,347.0 807.6,347.7 806.9,348.4 806.2,349.1 805.5,349.8 804.7,350.5 804.0,351.2 803.2,351.8 802.4,352.5 801.5,353.2 800.7,353.9 799.8,354.5 798.9,355.2 798.0,355.8 797.1,356.5 796.1,357.1 795.1,357.8 794.1,358.4 793.1,359.0 792.1,359.7 791.0,360.3 790.0,360.9 788.9,361.5 787.8,362.1 785.8,390.1 786.9,389.4 788.0,388.8 789.0,388.2 790.1,387.5 791.1,386.9 792.1,386.2 793.1,385.5 794.0,384.9 795.0,384.2 795.9,383.5 796.8,382.8 797.7,382.2 798.5,381.5 799.4,380.8 800.2,380.1 801.0,379.4 801.8,378.7 802.6,377.9 803.3,377.2 804.0,376.5 804.7,375.8 805.4,375.1 806.1,374.3 806.7,373.6 807.3,372.9 807.9,372.1 808.5,371.4 809.1,370.6 809.6,369.9 810.2,369.1 810.7,368.4 811.1,367.6 811.6,366.9 812.0,366.1 812.5,365.4 812.9,364.6 813.2,363.9 813.6,363.1 813.9,362.3 814.3,361.6 814.6,360.8 814.9,360.0 815.1,359.3 815.4,358.5 815.6,357.8 815.8,357.0 816.0,356.2 816.1,355.5 816.3,354.7 816.4,353.9 816.5,353.2 816.6,352.4 816.7,351.6 816.7,350.9 816.7,350.1 816.7,349.4 816.7,348.6 816.7,347.8 816.7,347.1 816.6,346.3 816.5,345.6 816.4,344.8 816.3,344.1 816.2,343.3 816.0,342.6 815.8,341.8 815.7,341.1 815.4,340.4 815.2,339.6 815.0,338.9 814.7,338.2 814.4,337.4" fill="url(#wb2)" stroke="url(#wb2)" stroke-width="0.8"/>
<polygon points="686.0,314.8 684.5,262.7 684.4,285.1 685.8,339.6" fill="#2b3658" stroke="#2b3658" stroke-width="0.8" stroke-linejoin="round"/>
<polygon points="686.0,314.8 787.8,363.3 785.8,390.1 685.8,339.6" fill="#2b3658" stroke="#2b3658" stroke-width="0.8" stroke-linejoin="round"/>
<polygon points="686.0,314.8 684.5,262.7 685.9,262.7 687.2,262.7 688.6,262.7 689.9,262.8 691.3,262.8 692.6,262.8 694.0,262.9 695.3,262.9 696.6,263.0 698.0,263.0 699.3,263.1 700.7,263.2 702.0,263.2 703.3,263.3 704.7,263.4 706.0,263.5 707.4,263.6 708.7,263.7 710.0,263.8 711.3,263.9 712.7,264.1 714.0,264.2 715.3,264.4 716.6,264.5 717.9,264.7 719.3,264.8 720.6,265.0 721.9,265.1 723.2,265.3 724.5,265.5 725.8,265.7 727.1,265.9 728.4,266.1 729.6,266.3 730.9,266.5 732.2,266.7 733.5,267.0 734.8,267.2 736.0,267.4 737.3,267.7 738.5,267.9 739.8,268.2 741.0,268.4 742.3,268.7 743.5,269.0 744.8,269.3 746.0,269.6 747.2,269.9 748.4,270.2 749.6,270.5 750.8,270.8 752.0,271.1 753.2,271.4 754.4,271.7 755.6,272.1 756.8,272.4 757.9,272.8 759.1,273.1 760.3,273.5 761.4,273.8 762.5,274.2 763.7,274.6 764.8,275.0 765.9,275.3 767.0,275.7 768.1,276.1 769.2,276.5 770.3,276.9 771.4,277.4 772.5,277.8 773.5,278.2 774.6,278.6 775.6,279.1 776.7,279.5 777.7,280.0 778.7,280.4 779.7,280.9 780.7,281.3 781.7,281.8 782.7,282.3 783.6,282.8 784.6,283.2 785.6,283.7 786.5,284.2 787.4,284.7 788.3,285.2 789.3,285.8 790.2,286.3 791.0,286.8 791.9,287.3 792.8,287.8 793.6,288.4 794.5,288.9 795.3,289.5 796.1,290.0 796.9,290.6 797.7,291.1 798.5,291.7 799.3,292.3 800.0,292.8 800.8,293.4 801.5,294.0 802.2,294.6 802.9,295.2 803.6,295.8 804.3,296.4 805.0,297.0 805.6,297.6 806.3,298.2 806.9,298.8 807.5,299.4 808.1,300.1 808.7,300.7 809.2,301.3 809.8,302.0 810.3,302.6 810.9,303.3 811.4,303.9 811.9,304.6 812.3,305.2 812.8,305.9 813.3,306.5 813.7,307.2 814.1,307.9 814.5,308.5 814.9,309.2 815.3,309.9 815.6,310.6 815.9,311.2 816.3,311.9 816.6,312.6 816.8,313.3 817.1,314.0 817.4,314.7 817.6,315.4 817.8,316.1 818.0,316.8 818.2,317.5 818.4,318.2 818.5,318.9 818.6,319.6 818.7,320.3 818.8,321.1 818.9,321.8 819.0,322.5 819.0,323.2 819.0,323.9 819.0,324.6 819.0,325.4 819.0,326.1 818.9,326.8 818.8,327.5 818.7,328.3 818.6,329.0 818.5,329.7 818.4,330.4 818.2,331.2 818.0,331.9 817.8,332.6 817.6,333.3 817.3,334.1 817.0,334.8 816.7,335.5 816.4,336.2 816.1,337.0 815.8,337.7 815.4,338.4 815.0,339.1 814.6,339.9 814.2,340.6 813.7,341.3 813.3,342.0 812.8,342.7 812.3,343.4 811.7,344.1 811.2,344.9 810.6,345.6 810.0,346.3 809.4,347.0 808.8,347.7 808.1,348.4 807.5,349.1 806.8,349.7 806.1,350.4 805.3,351.1 804.6,351.8 803.8,352.5 803.0,353.1 802.2,353.8 801.4,354.5 800.6,355.1 799.7,355.8 798.8,356.5 797.9,357.1 797.0,357.8 796.0,358.4 795.1,359.0 794.1,359.7 793.1,360.3 792.0,360.9 791.0,361.5 789.9,362.1 788.9,362.7 787.8,363.3" fill="#557bb5"/>
<polygon points="764.9,369.2 763.7,369.8 762.6,370.4 761.4,371.0 760.1,371.6 758.9,372.2 757.6,372.8 756.4,373.4 755.1,373.9 753.7,374.5 752.4,375.0 751.1,375.6 749.7,376.1 748.3,376.6 746.9,377.2 745.5,377.7 744.1,378.2 742.7,378.7 741.2,379.2 739.7,379.6 738.2,380.1 736.7,380.6 735.2,381.0 733.7,381.5 732.1,381.9 730.6,382.3 729.0,382.8 727.4,383.2 725.8,383.6 724.2,384.0 722.6,384.3 721.0,384.7 719.3,385.1 717.7,385.4 716.0,385.8 714.3,386.1 712.6,386.4 710.9,386.7 709.2,387.0 707.5,387.3 705.8,387.6 704.0,387.9 702.3,388.1 700.6,388.4 698.8,388.6 697.0,388.8 695.3,389.0 693.5,389.2 691.7,389.4 689.9,389.6 688.1,389.8 686.3,389.9 684.5,390.1 682.7,390.2 680.9,390.3 679.1,390.4 677.2,390.5 675.4,390.6 673.6,390.7 671.8,390.8 669.9,390.8 668.1,390.9 666.3,390.9 664.4,390.9 662.6,390.9 660.8,390.9 658.9,390.9 657.1,390.9 655.3,390.9 653.4,390.8 651.6,390.7 649.8,390.7 648.0,390.6 646.1,390.5 644.3,390.4 642.5,390.3 640.7,390.1 638.9,390.0 637.1,389.8 635.3,389.7 633.5,389.5 631.8,389.3 630.0,389.1 628.2,388.9 626.5,388.7 624.7,388.5 623.0,388.2 621.2,388.0 619.5,387.7 617.8,387.4 616.1,387.2 614.4,386.9 612.7,386.6 611.0,386.2 609.4,385.9 607.7,385.6 606.1,385.2 604.4,384.9 602.8,384.5 601.2,384.1 599.6,383.8 598.0,383.4 596.4,383.0 594.9,382.5 593.3,382.1 591.8,381.7 590.3,381.2 588.8,380.8 587.3,380.3 585.8,379.9 584.4,379.4 582.9,378.9 581.5,378.4 580.1,377.9 578.7,377.4 577.3,376.9 576.0,376.4 574.6,375.8 573.3,375.3 572.0,374.7 570.7,374.2 569.4,373.6 568.2,373.0 566.9,372.5 565.7,371.9 564.5,371.3 563.3,370.7 562.2,370.1 561.0,369.5 559.9,368.9 558.8,368.2 557.7,367.6 556.6,367.0 555.6,366.3 554.5,365.7 553.5,365.0 552.5,364.4 551.5,363.7 550.6,363.0 549.7,362.4 548.7,361.7 547.9,361.0 547.0,360.3 546.1,359.7 545.3,359.0 544.5,358.3 543.7,357.6 542.9,356.9 542.2,356.2 541.4,355.4 540.7,354.7 540.0,354.0 539.4,353.3 538.7,352.6 538.1,351.8 537.5,351.1 536.9,350.4 536.3,349.7 535.8,348.9 535.3,348.2 534.8,347.4 534.3,346.7 533.8,346.0 533.4,345.2 532.9,344.5 532.5,343.7 532.2,343.0 531.8,342.2 531.5,341.5 531.1,340.7 530.8,340.0 530.6,339.2 530.3,338.5 530.1,337.7 529.9,337.0 529.7,336.2 529.5,335.5 529.3,334.7 529.2,334.0 529.1,333.2 529.0,332.5 528.9,331.7 528.8,331.0 528.8,330.2 528.8,329.5 528.7,328.7 528.8,328.0 528.8,327.3 528.9,326.5 528.9,325.8 529.0,325.0 529.1,324.3 529.3,323.6 529.4,322.8 529.6,322.1 529.7,321.4 529.9,320.7 530.2,319.9 530.4,319.2 530.6,318.5 530.9,317.8 531.2,317.1 533.4,343.2 533.2,343.9 532.9,344.6 532.6,345.4 532.4,346.1 532.2,346.9 532.0,347.7 531.8,348.4 531.7,349.2 531.5,349.9 531.4,350.7 531.3,351.5 531.2,352.2 531.2,353.0 531.1,353.8 531.1,354.6 531.1,355.3 531.1,356.1 531.1,356.9 531.2,357.7 531.2,358.4 531.3,359.2 531.4,360.0 531.5,360.8 531.7,361.6 531.8,362.3 532.0,363.1 532.2,363.9 532.4,364.7 532.7,365.5 532.9,366.3 533.2,367.0 533.5,367.8 533.8,368.6 534.2,369.4 534.5,370.2 534.9,370.9 535.3,371.7 535.7,372.5 536.1,373.3 536.6,374.0 537.1,374.8 537.6,375.6 538.1,376.3 538.6,377.1 539.2,377.9 539.8,378.6 540.4,379.4 541.0,380.1 541.6,380.9 542.3,381.6 543.0,382.4 543.7,383.1 544.4,383.9 545.1,384.6 545.9,385.3 546.7,386.0 547.5,386.8 548.3,387.5 549.2,388.2 550.0,388.9 550.9,389.6 551.8,390.3 552.7,391.0 553.7,391.7 554.6,392.4 555.6,393.1 556.6,393.8 557.6,394.4 558.7,395.1 559.7,395.8 560.8,396.4 561.9,397.1 563.0,397.7 564.1,398.3 565.3,399.0 566.4,399.6 567.6,400.2 568.8,400.8 570.0,401.4 571.3,402.0 572.5,402.6 573.8,403.2 575.1,403.7 576.4,404.3 577.7,404.8 579.1,405.4 580.4,405.9 581.8,406.5 583.2,407.0 584.6,407.5 586.0,408.0 587.4,408.5 588.9,409.0 590.3,409.4 591.8,409.9 593.3,410.4 594.8,410.8 596.3,411.3 597.8,411.7 599.4,412.1 600.9,412.5 602.5,412.9 604.1,413.3 605.7,413.7 607.3,414.1 608.9,414.4 610.5,414.8 612.2,415.1 613.8,415.4 615.5,415.7 617.1,416.1 618.8,416.3 620.5,416.6 622.2,416.9 623.9,417.2 625.6,417.4 627.3,417.7 629.1,417.9 630.8,418.1 632.5,418.3 634.3,418.5 636.0,418.7 637.8,418.8 639.6,419.0 641.3,419.1 643.1,419.3 644.9,419.4 646.7,419.5 648.4,419.6 650.2,419.7 652.0,419.8 653.8,419.8 655.6,419.9 657.4,419.9 659.2,420.0 661.0,420.0 662.8,420.0 664.6,420.0 666.4,419.9 668.2,419.9 670.0,419.9 671.8,419.8 673.6,419.7 675.4,419.7 677.2,419.6 679.0,419.5 680.7,419.3 682.5,419.2 684.3,419.1 686.1,418.9 687.9,418.8 689.6,418.6 691.4,418.4 693.1,418.2 694.9,418.0 696.6,417.8 698.3,417.5 700.1,417.3 701.8,417.0 703.5,416.8 705.2,416.5 706.9,416.2 708.6,415.9 710.3,415.6 711.9,415.3 713.6,415.0 715.2,414.6 716.9,414.3 718.5,413.9 720.1,413.5 721.7,413.1 723.3,412.7 724.9,412.3 726.5,411.9 728.0,411.5 729.6,411.1 731.1,410.6 732.6,410.2 734.1,409.7 735.6,409.2 737.1,408.8 738.6,408.3 740.0,407.8 741.4,407.3 742.9,406.7 744.3,406.2 745.6,405.7 747.0,405.1 748.4,404.6 749.7,404.0 751.0,403.5 752.3,402.9 753.6,402.3 754.9,401.7 756.2,401.1 757.4,400.5 758.6,399.9 759.8,399.3 761.0,398.7 762.2,398.0 763.3,397.4" fill="url(#wo2)" stroke="url(#wo2)" stroke-width="0.8"/>
<polygon points="663.9,320.4 764.9,370.4 763.8,371.0 762.6,371.6 761.4,372.2 760.1,372.8 758.9,373.4 757.7,374.0 756.4,374.5 755.1,375.1 753.8,375.7 752.5,376.2 751.1,376.8 749.8,377.3 748.4,377.8 747.0,378.3 745.6,378.9 744.2,379.4 742.7,379.9 741.3,380.3 739.8,380.8 738.3,381.3 736.8,381.8 735.3,382.2 733.8,382.7 732.3,383.1 730.7,383.5 729.1,383.9 727.6,384.3 726.0,384.7 724.4,385.1 722.8,385.5 721.1,385.9 719.5,386.2 717.8,386.6 716.2,386.9 714.5,387.3 712.8,387.6 711.1,387.9 709.4,388.2 707.7,388.5 706.0,388.8 704.3,389.0 702.6,389.3 700.8,389.5 699.1,389.8 697.3,390.0 695.5,390.2 693.8,390.4 692.0,390.6 690.2,390.8 688.4,390.9 686.6,391.1 684.8,391.3 683.0,391.4 681.2,391.5 679.4,391.6 677.6,391.7 675.8,391.8 673.9,391.9 672.1,392.0 670.3,392.0 668.5,392.1 666.6,392.1 664.8,392.1 663.0,392.1 661.2,392.1 659.3,392.1 657.5,392.1 655.7,392.1 653.9,392.0 652.0,392.0 650.2,391.9 648.4,391.8 646.6,391.7 644.8,391.6 643.0,391.5 641.2,391.4 639.4,391.2 637.6,391.1 635.8,390.9 634.0,390.8 632.2,390.6 630.5,390.4 628.7,390.2 627.0,390.0 625.2,389.7 623.5,389.5 621.7,389.3 620.0,389.0 618.3,388.7 616.6,388.4 614.9,388.2 613.2,387.9 611.6,387.5 609.9,387.2 608.2,386.9 606.6,386.5 605.0,386.2 603.3,385.8 601.7,385.5 600.1,385.1 598.6,384.7 597.0,384.3 595.4,383.9 593.9,383.5 592.4,383.0 590.8,382.6 589.3,382.2 587.9,381.7 586.4,381.2 584.9,380.8 583.5,380.3 582.1,379.8 580.6,379.3 579.3,378.8 577.9,378.3 576.5,377.8 575.2,377.2 573.8,376.7 572.5,376.2 571.2,375.6 570.0,375.0 568.7,374.5 567.4,373.9 566.2,373.3 565.0,372.7 563.8,372.1 562.7,371.5 561.5,370.9 560.4,370.3 559.3,369.7 558.2,369.1 557.1,368.5 556.0,367.8 555.0,367.2 554.0,366.5 553.0,365.9 552.0,365.2 551.0,364.6 550.1,363.9 549.2,363.2 548.3,362.6 547.4,361.9 546.5,361.2 545.7,360.5 544.9,359.8 544.1,359.1 543.3,358.4 542.5,357.7 541.8,357.0 541.1,356.3 540.4,355.6 539.7,354.9 539.1,354.1 538.4,353.4 537.8,352.7 537.2,352.0 536.6,351.2 536.1,350.5 535.5,349.8 535.0,349.0 534.5,348.3 534.1,347.6 533.6,346.8 533.2,346.1 532.8,345.3 532.4,344.6 532.0,343.9 531.7,343.1 531.3,342.4 531.0,341.6 530.7,340.9 530.5,340.1 530.2,339.4 530.0,338.6 529.8,337.9 529.6,337.1 529.4,336.4 529.3,335.6 529.1,334.9 529.0,334.1 528.9,333.4 528.9,332.6 528.8,331.9 528.8,331.2 528.7,330.4 528.8,329.7 528.8,328.9 528.8,328.2 528.9,327.5 529.0,326.7 529.0,326.0 529.2,325.3 529.3,324.5 529.4,323.8 529.6,323.1 529.8,322.3 530.0,321.6 530.2,320.9 530.5,320.2 530.7,319.5 531.0,318.7 531.3,318.0 531.6,317.3 531.9,316.6 532.3,315.9 532.6,315.2 533.0,314.5 533.4,313.8 533.8,313.1 534.2,312.5 534.7,311.8 535.1,311.1 535.6,310.4 536.1,309.7 536.6,309.1 537.1,308.4 537.7,307.7 538.2,307.1 538.8,306.4 539.3,305.8 539.9,305.1 540.6,304.5 541.2,303.9 541.8,303.2 542.5,302.6 543.1,302.0 543.8,301.3 544.5,300.7 545.2,300.1 545.9,299.5 546.6,298.9 547.4,298.3 548.2,297.7 548.9,297.1 549.7,296.5 550.5,296.0 551.3,295.4 552.1,294.8 553.0,294.2 553.8,293.7 554.7,293.1 555.5,292.6 556.4,292.0 557.3,291.5 558.2,291.0 559.1,290.4 560.0,289.9 561.0,289.4 561.9,288.9 562.9,288.4 563.8,287.9 564.8,287.4 565.8,286.9 566.8,286.4 567.8,285.9 568.8,285.4 569.8,285.0 570.9,284.5 571.9,284.0 572.9,283.6 574.0,283.1 575.1,282.7 576.2,282.2 577.2,281.8 578.3,281.4 579.4,281.0 580.5,280.6 581.7,280.2 582.8,279.8 583.9,279.4 585.1,279.0 586.2,278.6 587.4,278.2 588.5,277.8 589.7,277.5 590.9,277.1 592.1,276.7 593.3,276.4 594.5,276.1 595.7,275.7 596.9,275.4 598.1,275.1 599.3,274.7 600.5,274.4 601.8,274.1 603.0,273.8 604.3,273.5 605.5,273.2 606.8,273.0 608.0,272.7" fill="#e3561f"/>

<clipPath id="cw2orange"><polygon points="764.9,369.2 763.7,369.8 762.6,370.4 761.4,371.0 760.1,371.6 758.9,372.2 757.6,372.8 756.4,373.4 755.1,373.9 753.7,374.5 752.4,375.0 751.1,375.6 749.7,376.1 748.3,376.6 746.9,377.2 745.5,377.7 744.1,378.2 742.7,378.7 741.2,379.2 739.7,379.6 738.2,380.1 736.7,380.6 735.2,381.0 733.7,381.5 732.1,381.9 730.6,382.3 729.0,382.8 727.4,383.2 725.8,383.6 724.2,384.0 722.6,384.3 721.0,384.7 719.3,385.1 717.7,385.4 716.0,385.8 714.3,386.1 712.6,386.4 710.9,386.7 709.2,387.0 707.5,387.3 705.8,387.6 704.0,387.9 702.3,388.1 700.6,388.4 698.8,388.6 697.0,388.8 695.3,389.0 693.5,389.2 691.7,389.4 689.9,389.6 688.1,389.8 686.3,389.9 684.5,390.1 682.7,390.2 680.9,390.3 679.1,390.4 677.2,390.5 675.4,390.6 673.6,390.7 671.8,390.8 669.9,390.8 668.1,390.9 666.3,390.9 664.4,390.9 662.6,390.9 660.8,390.9 658.9,390.9 657.1,390.9 655.3,390.9 653.4,390.8 651.6,390.7 649.8,390.7 648.0,390.6 646.1,390.5 644.3,390.4 642.5,390.3 640.7,390.1 638.9,390.0 637.1,389.8 635.3,389.7 633.5,389.5 631.8,389.3 630.0,389.1 628.2,388.9 626.5,388.7 624.7,388.5 623.0,388.2 621.2,388.0 619.5,387.7 617.8,387.4 616.1,387.2 614.4,386.9 612.7,386.6 611.0,386.2 609.4,385.9 607.7,385.6 606.1,385.2 604.4,384.9 602.8,384.5 601.2,384.1 599.6,383.8 598.0,383.4 596.4,383.0 594.9,382.5 593.3,382.1 591.8,381.7 590.3,381.2 588.8,380.8 587.3,380.3 585.8,379.9 584.4,379.4 582.9,378.9 581.5,378.4 580.1,377.9 578.7,377.4 577.3,376.9 576.0,376.4 574.6,375.8 573.3,375.3 572.0,374.7 570.7,374.2 569.4,373.6 568.2,373.0 566.9,372.5 565.7,371.9 564.5,371.3 563.3,370.7 562.2,370.1 561.0,369.5 559.9,368.9 558.8,368.2 557.7,367.6 556.6,367.0 555.6,366.3 554.5,365.7 553.5,365.0 552.5,364.4 551.5,363.7 550.6,363.0 549.7,362.4 548.7,361.7 547.9,361.0 547.0,360.3 546.1,359.7 545.3,359.0 544.5,358.3 543.7,357.6 542.9,356.9 542.2,356.2 541.4,355.4 540.7,354.7 540.0,354.0 539.4,353.3 538.7,352.6 538.1,351.8 537.5,351.1 536.9,350.4 536.3,349.7 535.8,348.9 535.3,348.2 534.8,347.4 534.3,346.7 533.8,346.0 533.4,345.2 532.9,344.5 532.5,343.7 532.2,343.0 531.8,342.2 531.5,341.5 531.1,340.7 530.8,340.0 530.6,339.2 530.3,338.5 530.1,337.7 529.9,337.0 529.7,336.2 529.5,335.5 529.3,334.7 529.2,334.0 529.1,333.2 529.0,332.5 528.9,331.7 528.8,331.0 528.8,330.2 528.8,329.5 528.7,328.7 528.8,328.0 528.8,327.3 528.9,326.5 528.9,325.8 529.0,325.0 529.1,324.3 529.3,323.6 529.4,322.8 529.6,322.1 529.7,321.4 529.9,320.7 530.2,319.9 530.4,319.2 530.6,318.5 530.9,317.8 531.2,317.1 533.4,343.2 533.2,343.9 532.9,344.6 532.6,345.4 532.4,346.1 532.2,346.9 532.0,347.7 531.8,348.4 531.7,349.2 531.5,349.9 531.4,350.7 531.3,351.5 531.2,352.2 531.2,353.0 531.1,353.8 531.1,354.6 531.1,355.3 531.1,356.1 531.1,356.9 531.2,357.7 531.2,358.4 531.3,359.2 531.4,360.0 531.5,360.8 531.7,361.6 531.8,362.3 532.0,363.1 532.2,363.9 532.4,364.7 532.7,365.5 532.9,366.3 533.2,367.0 533.5,367.8 533.8,368.6 534.2,369.4 534.5,370.2 534.9,370.9 535.3,371.7 535.7,372.5 536.1,373.3 536.6,374.0 537.1,374.8 537.6,375.6 538.1,376.3 538.6,377.1 539.2,377.9 539.8,378.6 540.4,379.4 541.0,380.1 541.6,380.9 542.3,381.6 543.0,382.4 543.7,383.1 544.4,383.9 545.1,384.6 545.9,385.3 546.7,386.0 547.5,386.8 548.3,387.5 549.2,388.2 550.0,388.9 550.9,389.6 551.8,390.3 552.7,391.0 553.7,391.7 554.6,392.4 555.6,393.1 556.6,393.8 557.6,394.4 558.7,395.1 559.7,395.8 560.8,396.4 561.9,397.1 563.0,397.7 564.1,398.3 565.3,399.0 566.4,399.6 567.6,400.2 568.8,400.8 570.0,401.4 571.3,402.0 572.5,402.6 573.8,403.2 575.1,403.7 576.4,404.3 577.7,404.8 579.1,405.4 580.4,405.9 581.8,406.5 583.2,407.0 584.6,407.5 586.0,408.0 587.4,408.5 588.9,409.0 590.3,409.4 591.8,409.9 593.3,410.4 594.8,410.8 596.3,411.3 597.8,411.7 599.4,412.1 600.9,412.5 602.5,412.9 604.1,413.3 605.7,413.7 607.3,414.1 608.9,414.4 610.5,414.8 612.2,415.1 613.8,415.4 615.5,415.7 617.1,416.1 618.8,416.3 620.5,416.6 622.2,416.9 623.9,417.2 625.6,417.4 627.3,417.7 629.1,417.9 630.8,418.1 632.5,418.3 634.3,418.5 636.0,418.7 637.8,418.8 639.6,419.0 641.3,419.1 643.1,419.3 644.9,419.4 646.7,419.5 648.4,419.6 650.2,419.7 652.0,419.8 653.8,419.8 655.6,419.9 657.4,419.9 659.2,420.0 661.0,420.0 662.8,420.0 664.6,420.0 666.4,419.9 668.2,419.9 670.0,419.9 671.8,419.8 673.6,419.7 675.4,419.7 677.2,419.6 679.0,419.5 680.7,419.3 682.5,419.2 684.3,419.1 686.1,418.9 687.9,418.8 689.6,418.6 691.4,418.4 693.1,418.2 694.9,418.0 696.6,417.8 698.3,417.5 700.1,417.3 701.8,417.0 703.5,416.8 705.2,416.5 706.9,416.2 708.6,415.9 710.3,415.6 711.9,415.3 713.6,415.0 715.2,414.6 716.9,414.3 718.5,413.9 720.1,413.5 721.7,413.1 723.3,412.7 724.9,412.3 726.5,411.9 728.0,411.5 729.6,411.1 731.1,410.6 732.6,410.2 734.1,409.7 735.6,409.2 737.1,408.8 738.6,408.3 740.0,407.8 741.4,407.3 742.9,406.7 744.3,406.2 745.6,405.7 747.0,405.1 748.4,404.6 749.7,404.0 751.0,403.5 752.3,402.9 753.6,402.3 754.9,401.7 756.2,401.1 757.4,400.5 758.6,399.9 759.8,399.3 761.0,398.7 762.2,398.0 763.3,397.4"/></clipPath>
<polyline clip-path="url(#cw2orange)" points="764.9,372.4 761.2,374.3 757.2,376.2 753.1,377.9 748.9,379.6 744.4,381.3 739.8,382.8 735.1,384.3 730.2,385.6 725.2,386.9 720.1,388.1 714.8,389.2 709.5,390.2 704.0,391.1 698.5,391.8 692.9,392.5 687.2,393.0 681.5,393.5 675.8,393.8 670.0,394.0 664.2,394.1 658.5,394.1 652.7,394.0 646.9,393.7 641.2,393.4 635.6,392.9 629.9,392.3 624.4,391.6 618.9,390.8 613.6,389.9 608.3,388.9 603.1,387.8 598.1,386.6 593.2,385.3 588.4,383.9 583.8,382.4 579.3,380.8 575.0,379.2 570.9,377.4 566.9,375.6 563.1,373.8 559.5,371.8 556.1,369.8 552.9,367.8 549.8,365.7 547.0,363.6 544.4,361.4 542.0,359.2 539.7,356.9 537.7,354.6 535.9,352.3 534.3,350.0 532.9,347.6 531.7,345.3 530.7,342.9 530.0,340.5 529.4,338.2 529.0,335.8 528.8,333.5 528.8,331.1" fill="none" stroke="#f49a3c" stroke-width="2.4" stroke-opacity="0.75" stroke-linecap="round" filter="url(#blur1)"/>
<polygon points="250.8,621.1 176.7,580.1 177.9,605.0 250.9,647.9" fill="#a87418" stroke="#a87418" stroke-width="0.8" stroke-linejoin="round"/>
<polygon points="250.8,621.1 251.4,569.5 251.4,593.8 250.9,647.9" fill="#a87418" stroke="#a87418" stroke-width="0.8" stroke-linejoin="round"/>
<polygon points="250.8,621.1 176.7,580.1 177.9,579.8 179.0,579.4 180.2,579.1 181.4,578.7 182.5,578.4 183.7,578.1 184.9,577.7 186.1,577.4 187.3,577.1 188.6,576.8 189.8,576.5 191.0,576.2 192.2,575.9 193.5,575.6 194.7,575.4 196.0,575.1 197.2,574.8 198.5,574.6 199.7,574.3 201.0,574.1 202.3,573.8 203.5,573.6 204.8,573.4 206.1,573.2 207.4,573.0 208.7,572.8 210.0,572.6 211.3,572.4 212.6,572.2 213.9,572.0 215.2,571.8 216.5,571.6 217.8,571.5 219.2,571.3 220.5,571.2 221.8,571.0 223.1,570.9 224.5,570.8 225.8,570.6 227.1,570.5 228.5,570.4 229.8,570.3 231.1,570.2 232.5,570.1 233.8,570.0 235.2,569.9 236.5,569.9 237.9,569.8 239.2,569.7 240.6,569.7 241.9,569.6 243.3,569.6 244.6,569.6 246.0,569.5 247.3,569.5 248.7,569.5 250.0,569.5 251.4,569.5" fill="#f0b11a"/>
<polygon points="110.9,628.3 111.1,627.4 111.3,626.5 111.6,625.7 111.9,624.8 112.2,623.9 112.5,623.0 112.9,622.1 115.4,650.3 115.1,651.2 114.7,652.1 114.4,653.1 114.2,654.0 113.9,654.9 113.7,655.8 113.5,656.8" fill="url(#wg3)" stroke="url(#wg3)" stroke-width="0.8"/>
<polygon points="249.2,625.5 110.9,629.5 113.5,656.8 249.3,652.6" fill="#3d3d42" stroke="#3d3d42" stroke-width="0.8" stroke-linejoin="round"/>
<polygon points="249.2,625.5 110.9,629.5 111.1,628.8 111.3,628.0 111.5,627.3 111.7,626.5 111.9,625.8 112.2,625.0 112.5,624.3 112.8,623.6 113.1,622.8 113.4,622.1 113.8,621.4 114.2,620.6 114.5,619.9 114.9,619.2 115.4,618.5 115.8,617.8 116.3,617.1 116.7,616.4 117.2,615.7 117.7,615.0 118.2,614.3 118.8,613.6 119.3,612.9 119.9,612.2 120.5,611.5 121.1,610.9 121.7,610.2 122.3,609.5 122.9,608.9 123.6,608.2 124.3,607.6 125.0,606.9 125.7,606.3 126.4,605.7 127.1,605.0 127.8,604.4 128.6,603.8 129.4,603.2 130.1,602.5 130.9,601.9 131.7,601.3 132.6,600.7 133.4,600.1 134.2,599.6 135.1,599.0 136.0,598.4 136.8,597.8 137.7,597.3 138.6,596.7 139.5,596.1 140.5,595.6 141.4,595.0 142.4,594.5 143.3,594.0 144.3,593.4 145.3,592.9 146.3,592.4 147.3,591.9 148.3,591.4 149.3,590.9 150.3,590.4 151.4,589.9 152.4,589.4 153.5,588.9 154.6,588.5 155.7,588.0 156.8,587.5 157.9,587.1 159.0,586.6 160.1,586.2 161.2,585.8 162.3,585.3 163.5,584.9 164.6,584.5 165.8,584.1 167.0,583.7 168.1,583.3 169.3,582.9 170.5,582.5 171.7,582.1" fill="#aeb0ab"/>
<polygon points="401.1,622.6 401.4,623.4 401.7,624.1 402.0,624.9 402.3,625.7 402.5,626.5 402.7,627.2 403.0,628.0 403.1,628.8 403.3,629.6 403.5,630.4 403.6,631.2 403.7,632.0 403.8,632.8 403.9,633.5 403.9,634.3 404.0,635.1 404.0,636.0 404.0,636.8 403.9,637.6 403.9,638.4 403.8,639.2 403.7,640.0 403.6,640.8 403.5,641.6 403.3,642.4 403.1,643.2 402.9,644.0 402.7,644.9 402.5,645.7 402.2,646.5 401.9,647.3 401.6,648.1 401.3,648.9 400.9,649.7 400.6,650.5 400.2,651.3 399.7,652.2 399.3,653.0 398.8,653.8 398.4,654.6 397.8,655.4 397.3,656.2 396.8,657.0 396.2,657.8 395.6,658.6 395.0,659.4 394.3,660.2 393.7,661.0 393.0,661.7 392.2,662.5 391.5,663.3 390.8,664.1 390.0,664.9 389.2,665.6 388.4,666.4 387.5,667.2 386.6,667.9 385.7,668.7 384.8,669.4 383.9,670.2 382.9,670.9 382.0,671.7 380.9,672.4 379.9,673.1 378.9,673.9 377.8,674.6 376.7,675.3 375.6,676.0 374.5,676.7 373.3,677.4 372.1,678.1 370.9,678.8 369.7,679.4 368.5,680.1 367.2,680.8 365.9,681.4 364.6,682.1 363.3,682.7 362.0,683.3 360.6,684.0 359.2,684.6 357.8,685.2 356.4,685.8 354.3,716.8 355.7,716.2 357.1,715.5 358.5,714.9 359.8,714.2 361.1,713.6 362.4,712.9 363.7,712.2 364.9,711.6 366.2,710.9 367.4,710.2 368.6,709.5 369.8,708.7 370.9,708.0 372.1,707.3 373.2,706.6 374.3,705.8 375.4,705.1 376.4,704.3 377.4,703.6 378.4,702.8 379.4,702.1 380.4,701.3 381.3,700.5 382.3,699.7 383.2,699.0 384.0,698.2 384.9,697.4 385.7,696.6 386.6,695.8 387.3,695.0 388.1,694.2 388.9,693.3 389.6,692.5 390.3,691.7 391.0,690.9 391.6,690.1 392.3,689.2 392.9,688.4 393.5,687.6 394.0,686.7 394.6,685.9 395.1,685.1 395.6,684.2 396.1,683.4 396.6,682.5 397.0,681.7 397.4,680.9 397.8,680.0 398.2,679.2 398.5,678.3 398.9,677.5 399.2,676.6 399.4,675.8 399.7,674.9 400.0,674.1 400.2,673.2 400.4,672.4 400.6,671.5 400.7,670.7 400.9,669.8 401.0,669.0 401.1,668.1 401.1,667.3 401.2,666.4 401.2,665.6 401.2,664.8 401.2,663.9 401.2,663.1 401.2,662.2 401.1,661.4 401.0,660.6 400.9,659.7 400.8,658.9 400.6,658.1 400.5,657.3 400.3,656.4 400.1,655.6 399.9,654.8 399.6,654.0 399.4,653.2 399.1,652.4 398.8,651.6 398.5,650.8" fill="url(#wb3)" stroke="url(#wb3)" stroke-width="0.8"/>
<polygon points="259.6,626.1 259.0,569.6 258.9,593.9 259.5,653.2" fill="#2b3658" stroke="#2b3658" stroke-width="0.8" stroke-linejoin="round"/>
<polygon points="259.6,626.1 356.4,687.0 354.3,716.8 259.5,653.2" fill="#2b3658" stroke="#2b3658" stroke-width="0.8" stroke-linejoin="round"/>
<polygon points="259.6,626.1 259.0,569.6 260.4,569.6 261.8,569.6 263.3,569.6 264.7,569.6 266.1,569.7 267.6,569.7 269.0,569.7 270.4,569.8 271.9,569.9 273.3,569.9 274.7,570.0 276.2,570.1 277.6,570.1 279.0,570.2 280.4,570.3 281.8,570.4 283.3,570.5 284.7,570.7 286.1,570.8 287.5,570.9 288.9,571.0 290.3,571.2 291.7,571.3 293.2,571.5 294.6,571.7 296.0,571.8 297.4,572.0 298.7,572.2 300.1,572.4 301.5,572.6 302.9,572.8 304.3,573.0 305.7,573.2 307.0,573.4 308.4,573.6 309.8,573.9 311.1,574.1 312.5,574.4 313.8,574.6 315.2,574.9 316.5,575.2 317.9,575.4 319.2,575.7 320.5,576.0 321.8,576.3 323.2,576.6 324.5,576.9 325.8,577.2 327.1,577.5 328.4,577.9 329.7,578.2 330.9,578.5 332.2,578.9 333.5,579.2 334.7,579.6 336.0,579.9 337.3,580.3 338.5,580.7 339.7,581.1 341.0,581.5 342.2,581.9 343.4,582.3 344.6,582.7 345.8,583.1 347.0,583.5 348.2,583.9 349.4,584.4 350.5,584.8 351.7,585.2 352.8,585.7 354.0,586.2 355.1,586.6 356.2,587.1 357.3,587.6 358.5,588.0 359.5,588.5 360.6,589.0 361.7,589.5 362.8,590.0 363.8,590.5 364.9,591.1 365.9,591.6 366.9,592.1 368.0,592.6 369.0,593.2 370.0,593.7 370.9,594.3 371.9,594.8 372.9,595.4 373.8,596.0 374.8,596.5 375.7,597.1 376.6,597.7 377.5,598.3 378.4,598.9 379.3,599.5 380.1,600.1 381.0,600.7 381.8,601.3 382.7,602.0 383.5,602.6 384.3,603.2 385.1,603.8 385.8,604.5 386.6,605.1 387.3,605.8 388.1,606.4 388.8,607.1 389.5,607.8 390.2,608.4 390.8,609.1 391.5,609.8 392.1,610.5 392.8,611.2 393.4,611.9 394.0,612.6 394.6,613.3 395.1,614.0 395.7,614.7 396.2,615.4 396.7,616.1 397.2,616.8 397.7,617.6 398.2,618.3 398.6,619.0 399.1,619.8 399.5,620.5 399.9,621.3 400.2,622.0 400.6,622.8 401.0,623.5 401.3,624.3 401.6,625.0 401.9,625.8 402.2,626.6 402.4,627.3 402.6,628.1 402.9,628.9 403.1,629.6 403.2,630.4 403.4,631.2 403.5,632.0 403.7,632.8 403.8,633.6 403.8,634.4 403.9,635.2 403.9,635.9 404.0,636.7 404.0,637.5 404.0,638.3 403.9,639.1 403.9,639.9 403.8,640.7 403.7,641.5 403.5,642.3 403.4,643.2 403.2,644.0 403.1,644.8 402.8,645.6 402.6,646.4 402.4,647.2 402.1,648.0 401.8,648.8 401.5,649.6 401.2,650.4 400.8,651.2 400.4,652.0 400.0,652.8 399.6,653.6 399.2,654.4 398.7,655.2 398.2,656.0 397.7,656.8 397.1,657.6 396.6,658.4 396.0,659.2 395.4,660.0 394.8,660.8 394.1,661.6 393.5,662.4 392.8,663.1 392.1,663.9 391.3,664.7 390.6,665.5 389.8,666.2 389.0,667.0 388.2,667.8 387.3,668.5 386.5,669.3 385.6,670.0 384.7,670.8 383.7,671.5 382.8,672.2 381.8,673.0 380.8,673.7 379.8,674.4 378.7,675.1 377.7,675.9 376.6,676.6 375.5,677.3 374.3,678.0 373.2,678.7 372.0,679.3 370.8,680.0 369.6,680.7 368.4,681.3 367.1,682.0 365.9,682.7 364.6,683.3 363.3,683.9 361.9,684.6 360.6,685.2 359.2,685.8 357.8,686.4 356.4,687.0" fill="#557bb5"/>
<polygon points="346.2,692.6 344.7,693.2 343.2,693.8 341.7,694.4 340.2,695.0 338.7,695.6 337.2,696.1 335.6,696.7 334.0,697.2 332.4,697.7 330.8,698.3 329.2,698.8 327.5,699.3 325.8,699.8 324.2,700.3 322.5,700.7 320.8,701.2 319.0,701.7 317.3,702.1 315.5,702.5 313.8,702.9 312.0,703.4 310.2,703.8 308.4,704.1 306.6,704.5 304.7,704.9 302.9,705.2 301.1,705.6 299.2,705.9 297.3,706.2 295.4,706.5 293.5,706.8 291.6,707.1 289.7,707.4 287.8,707.6 285.9,707.9 283.9,708.1 282.0,708.3 280.0,708.5 278.1,708.7 276.1,708.9 274.2,709.1 272.2,709.2 270.2,709.4 268.2,709.5 266.2,709.6 264.2,709.7 262.2,709.8 260.3,709.9 258.3,710.0 256.3,710.0 254.3,710.1 252.2,710.1 250.2,710.1 248.2,710.1 246.2,710.1 244.2,710.1 242.2,710.0 240.2,710.0 238.2,709.9 236.2,709.8 234.3,709.7 232.3,709.6 230.3,709.5 228.3,709.4 226.3,709.2 224.4,709.1 222.4,708.9 220.4,708.7 218.5,708.5 216.5,708.3 214.6,708.1 212.7,707.9 210.7,707.6 208.8,707.4 206.9,707.1 205.0,706.8 203.1,706.5 201.3,706.2 199.4,705.9 197.5,705.6 195.7,705.3 193.9,704.9 192.0,704.5 190.2,704.2 188.4,703.8 186.6,703.4 184.9,703.0 183.1,702.6 181.4,702.1 179.6,701.7 177.9,701.2 176.2,700.8 174.5,700.3 172.9,699.8 171.2,699.3 169.6,698.8 168.0,698.3 166.4,697.8 164.8,697.2 163.2,696.7 161.6,696.1 160.1,695.6 158.6,695.0 157.1,694.4 155.6,693.8 154.2,693.3 152.7,692.6 151.3,692.0 149.9,691.4 148.5,690.8 147.1,690.1 145.8,689.5 144.5,688.9 143.2,688.2 141.9,687.5 140.6,686.9 139.4,686.2 138.1,685.5 136.9,684.8 135.8,684.1 134.6,683.4 133.5,682.7 132.3,682.0 131.3,681.2 130.2,680.5 129.1,679.8 128.1,679.0 127.1,678.3 126.1,677.5 125.1,676.8 124.2,676.0 123.3,675.2 122.4,674.5 121.5,673.7 120.7,672.9 119.8,672.1 119.0,671.4 118.3,670.6 117.5,669.8 116.8,669.0 116.0,668.2 115.4,667.4 114.7,666.6 114.0,665.8 113.4,665.0 112.8,664.2 112.2,663.4 111.7,662.5 111.1,661.7 110.6,660.9 110.1,660.1 109.7,659.3 109.2,658.5 108.8,657.6 108.4,656.8 108.0,656.0 107.7,655.2 107.3,654.3 107.0,653.5 106.7,652.7 106.5,651.9 106.2,651.0 106.0,650.2 105.8,649.4 105.6,648.6 105.5,647.7 105.3,646.9 105.2,646.1 105.1,645.3 105.0,644.4 105.0,643.6 105.0,642.8 104.9,642.0 105.0,641.2 105.0,640.4 105.0,639.5 105.1,638.7 105.2,637.9 105.3,637.1 105.4,636.3 105.6,635.5 105.7,634.7 108.5,663.5 108.3,664.3 108.2,665.1 108.1,666.0 107.9,666.8 107.9,667.7 107.8,668.5 107.8,669.4 107.7,670.2 107.7,671.1 107.8,671.9 107.8,672.8 107.8,673.6 107.9,674.5 108.0,675.4 108.1,676.2 108.3,677.1 108.4,677.9 108.6,678.8 108.8,679.7 109.1,680.5 109.3,681.4 109.6,682.2 109.9,683.1 110.2,684.0 110.5,684.8 110.9,685.7 111.2,686.6 111.6,687.4 112.0,688.3 112.5,689.1 112.9,690.0 113.4,690.8 113.9,691.7 114.5,692.5 115.0,693.4 115.6,694.2 116.2,695.1 116.8,695.9 117.4,696.8 118.1,697.6 118.8,698.4 119.5,699.3 120.2,700.1 121.0,700.9 121.7,701.8 122.5,702.6 123.3,703.4 124.2,704.2 125.0,705.0 125.9,705.8 126.8,706.6 127.8,707.4 128.7,708.2 129.7,709.0 130.7,709.7 131.7,710.5 132.7,711.3 133.8,712.0 134.8,712.8 135.9,713.5 137.1,714.3 138.2,715.0 139.3,715.7 140.5,716.5 141.7,717.2 143.0,717.9 144.2,718.6 145.5,719.3 146.7,720.0 148.0,720.7 149.4,721.3 150.7,722.0 152.1,722.6 153.4,723.3 154.8,723.9 156.2,724.6 157.7,725.2 159.1,725.8 160.6,726.4 162.1,727.0 163.6,727.6 165.1,728.1 166.7,728.7 168.2,729.3 169.8,729.8 171.4,730.3 173.0,730.9 174.6,731.4 176.2,731.9 177.9,732.4 179.6,732.9 181.2,733.3 182.9,733.8 184.6,734.2 186.4,734.7 188.1,735.1 189.8,735.5 191.6,735.9 193.4,736.3 195.2,736.7 197.0,737.0 198.8,737.4 200.6,737.7 202.4,738.1 204.2,738.4 206.1,738.7 207.9,739.0 209.8,739.3 211.7,739.5 213.6,739.8 215.5,740.0 217.4,740.3 219.3,740.5 221.2,740.7 223.1,740.9 225.0,741.0 226.9,741.2 228.9,741.3 230.8,741.5 232.8,741.6 234.7,741.7 236.6,741.8 238.6,741.9 240.6,741.9 242.5,742.0 244.5,742.0 246.4,742.1 248.4,742.1 250.4,742.1 252.3,742.1 254.3,742.0 256.2,742.0 258.2,741.9 260.1,741.9 262.1,741.8 264.0,741.7 266.0,741.6 267.9,741.5 269.9,741.3 271.8,741.2 273.7,741.0 275.7,740.8 277.6,740.7 279.5,740.5 281.4,740.2 283.3,740.0 285.2,739.8 287.1,739.5 289.0,739.2 290.9,739.0 292.7,738.7 294.6,738.4 296.4,738.1 298.3,737.7 300.1,737.4 301.9,737.0 303.7,736.7 305.5,736.3 307.3,735.9 309.0,735.5 310.8,735.1 312.5,734.6 314.3,734.2 316.0,733.8 317.7,733.3 319.4,732.8 321.1,732.3 322.7,731.9 324.4,731.3 326.0,730.8 327.6,730.3 329.2,729.8 330.8,729.2 332.4,728.7 333.9,728.1 335.4,727.5 337.0,727.0 338.5,726.4 339.9,725.8 341.4,725.1 342.9,724.5 344.3,723.9" fill="url(#wo3)" stroke="url(#wo3)" stroke-width="0.8"/>
<polygon points="250.2,631.7 346.2,693.8 344.7,694.4 343.2,695.0 341.7,695.6 340.2,696.2 338.7,696.8 337.2,697.3 335.6,697.9 334.0,698.4 332.4,698.9 330.8,699.5 329.2,700.0 327.5,700.5 325.8,701.0 324.2,701.5 322.5,701.9 320.8,702.4 319.0,702.9 317.3,703.3 315.5,703.7 313.8,704.1 312.0,704.6 310.2,705.0 308.4,705.3 306.6,705.7 304.7,706.1 302.9,706.4 301.1,706.8 299.2,707.1 297.3,707.4 295.4,707.7 293.5,708.0 291.6,708.3 289.7,708.6 287.8,708.8 285.9,709.1 283.9,709.3 282.0,709.5 280.0,709.7 278.1,709.9 276.1,710.1 274.2,710.3 272.2,710.4 270.2,710.6 268.2,710.7 266.2,710.8 264.2,710.9 262.2,711.0 260.3,711.1 258.3,711.2 256.3,711.2 254.3,711.3 252.2,711.3 250.2,711.3 248.2,711.3 246.2,711.3 244.2,711.3 242.2,711.2 240.2,711.2 238.2,711.1 236.2,711.0 234.3,710.9 232.3,710.8 230.3,710.7 228.3,710.6 226.3,710.4 224.4,710.3 222.4,710.1 220.4,709.9 218.5,709.7 216.5,709.5 214.6,709.3 212.7,709.1 210.7,708.8 208.8,708.6 206.9,708.3 205.0,708.0 203.1,707.7 201.3,707.4 199.4,707.1 197.5,706.8 195.7,706.5 193.9,706.1 192.0,705.7 190.2,705.4 188.4,705.0 186.6,704.6 184.9,704.2 183.1,703.8 181.4,703.3 179.6,702.9 177.9,702.4 176.2,702.0 174.5,701.5 172.9,701.0 171.2,700.5 169.6,700.0 168.0,699.5 166.4,699.0 164.8,698.4 163.2,697.9 161.6,697.3 160.1,696.8 158.6,696.2 157.1,695.6 155.6,695.0 154.2,694.5 152.7,693.8 151.3,693.2 149.9,692.6 148.5,692.0 147.1,691.3 145.8,690.7 144.5,690.1 143.2,689.4 141.9,688.7 140.6,688.1 139.4,687.4 138.1,686.7 136.9,686.0 135.8,685.3 134.6,684.6 133.5,683.9 132.3,683.2 131.3,682.4 130.2,681.7 129.1,681.0 128.1,680.2 127.1,679.5 126.1,678.7 125.1,678.0 124.2,677.2 123.3,676.4 122.4,675.7 121.5,674.9 120.7,674.1 119.8,673.3 119.0,672.6 118.3,671.8 117.5,671.0 116.8,670.2 116.0,669.4 115.4,668.6 114.7,667.8 114.0,667.0 113.4,666.2 112.8,665.4 112.2,664.6 111.7,663.7 111.1,662.9 110.6,662.1 110.1,661.3 109.7,660.5 109.2,659.7 108.8,658.8 108.4,658.0 108.0,657.2 107.7,656.4 107.3,655.5 107.0,654.7 106.7,653.9 106.5,653.1 106.2,652.2 106.0,651.4 105.8,650.6 105.6,649.8 105.5,648.9 105.3,648.1 105.2,647.3 105.1,646.5 105.0,645.6 105.0,644.8 105.0,644.0 104.9,643.2 105.0,642.4 105.0,641.6 105.0,640.7 105.1,639.9 105.2,639.1 105.3,638.3 105.4,637.5 105.6,636.7 105.7,635.9" fill="#e3561f"/>

<clipPath id="cw3orange"><polygon points="346.2,692.6 344.7,693.2 343.2,693.8 341.7,694.4 340.2,695.0 338.7,695.6 337.2,696.1 335.6,696.7 334.0,697.2 332.4,697.7 330.8,698.3 329.2,698.8 327.5,699.3 325.8,699.8 324.2,700.3 322.5,700.7 320.8,701.2 319.0,701.7 317.3,702.1 315.5,702.5 313.8,702.9 312.0,703.4 310.2,703.8 308.4,704.1 306.6,704.5 304.7,704.9 302.9,705.2 301.1,705.6 299.2,705.9 297.3,706.2 295.4,706.5 293.5,706.8 291.6,707.1 289.7,707.4 287.8,707.6 285.9,707.9 283.9,708.1 282.0,708.3 280.0,708.5 278.1,708.7 276.1,708.9 274.2,709.1 272.2,709.2 270.2,709.4 268.2,709.5 266.2,709.6 264.2,709.7 262.2,709.8 260.3,709.9 258.3,710.0 256.3,710.0 254.3,710.1 252.2,710.1 250.2,710.1 248.2,710.1 246.2,710.1 244.2,710.1 242.2,710.0 240.2,710.0 238.2,709.9 236.2,709.8 234.3,709.7 232.3,709.6 230.3,709.5 228.3,709.4 226.3,709.2 224.4,709.1 222.4,708.9 220.4,708.7 218.5,708.5 216.5,708.3 214.6,708.1 212.7,707.9 210.7,707.6 208.8,707.4 206.9,707.1 205.0,706.8 203.1,706.5 201.3,706.2 199.4,705.9 197.5,705.6 195.7,705.3 193.9,704.9 192.0,704.5 190.2,704.2 188.4,703.8 186.6,703.4 184.9,703.0 183.1,702.6 181.4,702.1 179.6,701.7 177.9,701.2 176.2,700.8 174.5,700.3 172.9,699.8 171.2,699.3 169.6,698.8 168.0,698.3 166.4,697.8 164.8,697.2 163.2,696.7 161.6,696.1 160.1,695.6 158.6,695.0 157.1,694.4 155.6,693.8 154.2,693.3 152.7,692.6 151.3,692.0 149.9,691.4 148.5,690.8 147.1,690.1 145.8,689.5 144.5,688.9 143.2,688.2 141.9,687.5 140.6,686.9 139.4,686.2 138.1,685.5 136.9,684.8 135.8,684.1 134.6,683.4 133.5,682.7 132.3,682.0 131.3,681.2 130.2,680.5 129.1,679.8 128.1,679.0 127.1,678.3 126.1,677.5 125.1,676.8 124.2,676.0 123.3,675.2 122.4,674.5 121.5,673.7 120.7,672.9 119.8,672.1 119.0,671.4 118.3,670.6 117.5,669.8 116.8,669.0 116.0,668.2 115.4,667.4 114.7,666.6 114.0,665.8 113.4,665.0 112.8,664.2 112.2,663.4 111.7,662.5 111.1,661.7 110.6,660.9 110.1,660.1 109.7,659.3 109.2,658.5 108.8,657.6 108.4,656.8 108.0,656.0 107.7,655.2 107.3,654.3 107.0,653.5 106.7,652.7 106.5,651.9 106.2,651.0 106.0,650.2 105.8,649.4 105.6,648.6 105.5,647.7 105.3,646.9 105.2,646.1 105.1,645.3 105.0,644.4 105.0,643.6 105.0,642.8 104.9,642.0 105.0,641.2 105.0,640.4 105.0,639.5 105.1,638.7 105.2,637.9 105.3,637.1 105.4,636.3 105.6,635.5 105.7,634.7 108.5,663.5 108.3,664.3 108.2,665.1 108.1,666.0 107.9,666.8 107.9,667.7 107.8,668.5 107.8,669.4 107.7,670.2 107.7,671.1 107.8,671.9 107.8,672.8 107.8,673.6 107.9,674.5 108.0,675.4 108.1,676.2 108.3,677.1 108.4,677.9 108.6,678.8 108.8,679.7 109.1,680.5 109.3,681.4 109.6,682.2 109.9,683.1 110.2,684.0 110.5,684.8 110.9,685.7 111.2,686.6 111.6,687.4 112.0,688.3 112.5,689.1 112.9,690.0 113.4,690.8 113.9,691.7 114.5,692.5 115.0,693.4 115.6,694.2 116.2,695.1 116.8,695.9 117.4,696.8 118.1,697.6 118.8,698.4 119.5,699.3 120.2,700.1 121.0,700.9 121.7,701.8 122.5,702.6 123.3,703.4 124.2,704.2 125.0,705.0 125.9,705.8 126.8,706.6 127.8,707.4 128.7,708.2 129.7,709.0 130.7,709.7 131.7,710.5 132.7,711.3 133.8,712.0 134.8,712.8 135.9,713.5 137.1,714.3 138.2,715.0 139.3,715.7 140.5,716.5 141.7,717.2 143.0,717.9 144.2,718.6 145.5,719.3 146.7,720.0 148.0,720.7 149.4,721.3 150.7,722.0 152.1,722.6 153.4,723.3 154.8,723.9 156.2,724.6 157.7,725.2 159.1,725.8 160.6,726.4 162.1,727.0 163.6,727.6 165.1,728.1 166.7,728.7 168.2,729.3 169.8,729.8 171.4,730.3 173.0,730.9 174.6,731.4 176.2,731.9 177.9,732.4 179.6,732.9 181.2,733.3 182.9,733.8 184.6,734.2 186.4,734.7 188.1,735.1 189.8,735.5 191.6,735.9 193.4,736.3 195.2,736.7 197.0,737.0 198.8,737.4 200.6,737.7 202.4,738.1 204.2,738.4 206.1,738.7 207.9,739.0 209.8,739.3 211.7,739.5 213.6,739.8 215.5,740.0 217.4,740.3 219.3,740.5 221.2,740.7 223.1,740.9 225.0,741.0 226.9,741.2 228.9,741.3 230.8,741.5 232.8,741.6 234.7,741.7 236.6,741.8 238.6,741.9 240.6,741.9 242.5,742.0 244.5,742.0 246.4,742.1 248.4,742.1 250.4,742.1 252.3,742.1 254.3,742.0 256.2,742.0 258.2,741.9 260.1,741.9 262.1,741.8 264.0,741.7 266.0,741.6 267.9,741.5 269.9,741.3 271.8,741.2 273.7,741.0 275.7,740.8 277.6,740.7 279.5,740.5 281.4,740.2 283.3,740.0 285.2,739.8 287.1,739.5 289.0,739.2 290.9,739.0 292.7,738.7 294.6,738.4 296.4,738.1 298.3,737.7 300.1,737.4 301.9,737.0 303.7,736.7 305.5,736.3 307.3,735.9 309.0,735.5 310.8,735.1 312.5,734.6 314.3,734.2 316.0,733.8 317.7,733.3 319.4,732.8 321.1,732.3 322.7,731.9 324.4,731.3 326.0,730.8 327.6,730.3 329.2,729.8 330.8,729.2 332.4,728.7 333.9,728.1 335.4,727.5 337.0,727.0 338.5,726.4 339.9,725.8 341.4,725.1 342.9,724.5 344.3,723.9"/></clipPath>
<polyline clip-path="url(#cw3orange)" points="346.2,695.8 341.8,697.6 337.2,699.3 332.5,700.9 327.7,702.4 322.7,703.9 317.6,705.2 312.3,706.5 307.0,707.6 301.5,708.7 295.9,709.6 290.3,710.5 284.5,711.2 278.8,711.9 272.9,712.4 267.0,712.8 261.1,713.1 255.1,713.2 249.2,713.3 243.2,713.2 237.3,713.1 231.4,712.8 225.5,712.4 219.6,711.9 213.9,711.2 208.2,710.5 202.5,709.6 197.0,708.7 191.5,707.6 186.2,706.5 181.0,705.2 175.9,703.9 170.9,702.4 166.1,700.9 161.5,699.3 157.0,697.6 152.6,695.8 148.4,694.0 144.4,692.0 140.6,690.1 137.0,688.0 133.5,685.9 130.3,683.8 127.2,681.6 124.3,679.3 121.7,677.0 119.2,674.7 116.9,672.4 114.9,670.0 113.0,667.6 111.3,665.2 109.8,662.7 108.5,660.3 107.5,657.9 106.6,655.4 105.9,652.9 105.4,650.5 105.1,648.0 104.9,645.6 105.0,643.2" fill="none" stroke="#f49a3c" stroke-width="2.4" stroke-opacity="0.75" stroke-linecap="round" filter="url(#blur1)"/>
<!-- leader lines -->
<line x1="350.5" y1="221.5" x2="302.5" y2="253.2" stroke="#858585" stroke-width="1"/>
<line x1="343.8" y1="397" x2="295" y2="404" stroke="#6d7f95" stroke-width="1.2"/>
<line x1="580.8" y1="245" x2="640.5" y2="258.7" stroke="#666" stroke-width="1" stroke-dasharray="3,2"/>
<line x1="800.9" y1="243.5" x2="800.9" y2="290.2" stroke="#808080" stroke-width="1"/>
<polyline points="162.7,526.7 172,527 213,569" fill="none" stroke="#858585" stroke-width="1"/>
<line x1="391.2" y1="583.5" x2="391.2" y2="604.6" stroke="#808080" stroke-width="1"/>
</svg>

<!-- chart titles -->
<div class="ctitle" id="ct1" style="left:165px;top:194px;width:197.5px;height:37px"><span style="left:4.4px;top:8px;letter-spacing:2.45px">第1部（議員報告）</span></div>
<div class="ctitle" id="ct2" style="left:599px;top:192px;width:198.5px;height:37px"><span style="left:3.6px;top:7.4px;letter-spacing:2.75px">第2部（研究説明）</span></div>
<div class="ctitle" id="ct3" style="left:173px;top:506.5px;width:222px;height:36.5px"><span style="left:4.9px;top:8.1px;letter-spacing:2.15px">第3部（意見交換会）</span></div>
<div class="ctitle" id="ct4" style="left:596px;top:507.5px;width:164px;height:37px;background:#f9f9f7;z-index:2"><span style="left:3.6px;top:9px;font-size:21.5px;letter-spacing:2.14px">アンケート調査</span></div>

<!-- labels -->
<div class="lbl" id="lb1" style="left:349.6px;top:211.8px;width:72.0px;height:37.2px"></div>
<div class="lt" id="lb1_0" style="left:355.40px;top:218.10px;font-size:12.07px;letter-spacing:0.405px;color:#5a7da6;font-weight:400">大変良かっ</div>
<div class="lt" id="lb1_1" style="left:360.20px;top:233.20px;font-size:11.61px;letter-spacing:1.125px;color:#5a7da6;font-weight:400">た、13%</div>
<div class="lbl" id="lb2" style="left:88.7px;top:229.6px;width:83.0px;height:37.8px"></div>
<div class="lt" id="lb2_0" style="left:95.70px;top:237.20px;font-size:11.30px;letter-spacing:0.216px;color:#8c8c8c;font-weight:400">あまりわから</div>
<div class="lt" id="lb2_1" style="left:92.20px;top:251.30px;font-size:12.07px;letter-spacing:-1.363px;color:#8c8c8c;font-weight:400">なかった、24%</div>
<div class="lbl" id="lb3" style="left:343.1px;top:385.1px;width:63.0px;height:39.2px"></div>
<div class="lt" id="lb3_0" style="left:349.20px;top:393.20px;font-size:11.30px;letter-spacing:-0.180px;color:#c8743e;font-weight:400">良かった、</div>
<div class="lt" id="lb3_1" style="left:359.30px;top:406.90px;font-size:13.20px;letter-spacing:2.430px;color:#c8743e;font-weight:400">63%</div>
<div class="lbl" id="lb4" style="left:785.6px;top:206.7px;width:81.4px;height:37.3px"></div>
<div class="lt" id="lb4_0" style="left:791.10px;top:214.70px;font-size:11.30px;letter-spacing:0.720px;color:#4f75a3;font-weight:400">大変良かった</div>
<div class="lt" id="lb4_1" style="left:815.80px;top:228.30px;font-size:13.20px;letter-spacing:-2.070px;color:#4f75a3;font-weight:400">38%</div>
<div class="lbl" id="lb5" style="left:504.2px;top:225.1px;width:77.3px;height:53.4px"></div>
<div class="lt" id="lb5_0" style="left:509.60px;top:232.50px;font-size:11.30px;letter-spacing:0.252px;color:#8e8e8e;font-weight:400">あまりわから</div>
<div class="lt" id="lb5_1" style="left:521.60px;top:248.30px;font-size:12.28px;letter-spacing:-1.080px;color:#8e8e8e;font-weight:400">なかった</div>
<div class="lt" id="lb5_2" style="left:535.70px;top:263.40px;font-size:12.77px;letter-spacing:-1.620px;color:#8e8e8e;font-weight:400">8%</div>
<div class="lbl" id="lb6" style="left:486.6px;top:403.9px;width:57.3px;height:37.7px"></div>
<div class="lt" id="lb6_0" style="left:493.10px;top:411.90px;font-size:11.50px;letter-spacing:0.300px;color:#d4703a;font-weight:700">良かった</div>
<div class="lt" id="lb6_1" style="left:504.30px;top:426.10px;font-size:11.65px;letter-spacing:-0.810px;color:#d4703a;font-weight:700">54%</div>
<div class="lbl" id="lb7" style="left:90.8px;top:505.8px;width:72.6px;height:54.0px"></div>
<div class="lt" id="lb7_0" style="left:97.00px;top:512.80px;font-size:11.50px;letter-spacing:1.215px;color:#e6b321;font-weight:400">議論できな</div>
<div class="lt" id="lb7_1" style="left:107.30px;top:528.60px;font-size:12.04px;letter-spacing:0.600px;color:#e6b321;font-weight:400">かった、</div>
<div class="lt" id="lb7_2" style="left:112.50px;top:542.40px;font-size:13.20px;letter-spacing:3.330px;color:#e6b321;font-weight:400">11%</div>
<div class="lbl" id="lb8" style="left:53.1px;top:565.5px;width:70.2px;height:54.4px"></div>
<div class="lt" id="lb8_0" style="left:57.50px;top:572.40px;font-size:11.30px;letter-spacing:1.485px;color:#9c9c9c;font-weight:400">あまり議論</div>
<div class="lt" id="lb8_1" style="left:59.00px;top:589.40px;font-size:11.39px;letter-spacing:1.035px;color:#9c9c9c;font-weight:400">できなかっ</div>
<div class="lt" id="lb8_2" style="left:63.30px;top:602.50px;font-size:13.20px;letter-spacing:-0.720px;color:#9c9c9c;font-weight:400">た、15%</div>
<div class="lbl" id="lb9" style="left:378.6px;top:546.0px;width:71.9px;height:38.3px"></div>
<div class="lt" id="lb9_0" style="left:383.50px;top:552.80px;font-size:12.28px;letter-spacing:0.315px;color:#5a7da6;font-weight:400">よく議論で</div>
<div class="lt" id="lb9_1" style="left:383.00px;top:567.60px;font-size:11.61px;letter-spacing:1.008px;color:#5a7da6;font-weight:400">きた、40%</div>
<div class="lbl" id="lb10" style="left:70.8px;top:716.4px;width:74.6px;height:38.4px"></div>
<div class="lt" id="lb10_0" style="left:76.10px;top:723.60px;font-size:12.13px;letter-spacing:0.288px;color:#c8743e;font-weight:400">議論できた、</div>
<div class="lt" id="lb10_1" style="left:93.30px;top:739.10px;font-size:13.20px;letter-spacing:2.700px;color:#c8743e;font-weight:400">34%</div>

<svg class="a" style="left:0;top:0" width="907" height="1280" viewBox="0 0 907 1280">
<line x1="520" y1="689.0" x2="865" y2="689.0" stroke="#e2e2de" stroke-width="1"/>
<rect x="530.5" y="667.7" width="29.5" height="21.3" fill="#f0ad1c" stroke="#2a2418" stroke-width="1.3"/>
<text x="545.2" y="657.7" font-size="15" fill="#3c3c3c" text-anchor="middle" font-family="Liberation Sans, Noto Sans CJK JP, sans-serif">9</text>
<rect x="587.2" y="665.3" width="29.5" height="23.7" fill="#f0ad1c" stroke="#2a2418" stroke-width="1.3"/>
<text x="602.0" y="655.3" font-size="15" fill="#3c3c3c" text-anchor="middle" font-family="Liberation Sans, Noto Sans CJK JP, sans-serif">10</text>
<rect x="644.8" y="563.5" width="29.5" height="125.5" fill="#f0ad1c" stroke="#2a2418" stroke-width="1.3"/>
<text x="659.5" y="553.5" font-size="15" fill="#3c3c3c" text-anchor="middle" font-family="Liberation Sans, Noto Sans CJK JP, sans-serif">53</text>
<rect x="702.1" y="655.8" width="29.5" height="33.2" fill="#f0ad1c" stroke="#2a2418" stroke-width="1.3"/>
<text x="716.9" y="645.8" font-size="15" fill="#3c3c3c" text-anchor="middle" font-family="Liberation Sans, Noto Sans CJK JP, sans-serif">14</text>
<rect x="759.6" y="677.2" width="29.5" height="11.8" fill="#f0ad1c" stroke="#2a2418" stroke-width="1.3"/>
<text x="774.4" y="667.2" font-size="15" fill="#3c3c3c" text-anchor="middle" font-family="Liberation Sans, Noto Sans CJK JP, sans-serif">5</text>
<rect x="817.8" y="686.6" width="29.5" height="2.4" fill="#f0ad1c" stroke="#2a2418" stroke-width="1.3"/>
<text x="832.5" y="676.6" font-size="15" fill="#3c3c3c" text-anchor="middle" font-family="Liberation Sans, Noto Sans CJK JP, sans-serif">1</text>
<text x="501" y="694.2" font-size="14" fill="#555" text-anchor="end" font-family="Liberation Sans, Noto Sans CJK JP, sans-serif">0</text>
<text x="501" y="670.5" font-size="14" fill="#555" text-anchor="end" font-family="Liberation Sans, Noto Sans CJK JP, sans-serif">10</text>
<text x="501" y="646.8" font-size="14" fill="#555" text-anchor="end" font-family="Liberation Sans, Noto Sans CJK JP, sans-serif">20</text>
<text x="501" y="623.2" font-size="14" fill="#555" text-anchor="end" font-family="Liberation Sans, Noto Sans CJK JP, sans-serif">30</text>
<text x="501" y="599.5" font-size="14" fill="#555" text-anchor="end" font-family="Liberation Sans, Noto Sans CJK JP, sans-serif">40</text>
<text x="501" y="575.8" font-size="14" fill="#555" text-anchor="end" font-family="Liberation Sans, Noto Sans CJK JP, sans-serif">50</text>
<text x="501" y="552.1" font-size="14" fill="#555" text-anchor="end" font-family="Liberation Sans, Noto Sans CJK JP, sans-serif">60</text>
<text x="486" y="532" font-size="14.5" fill="#555" font-family="Liberation Sans, Noto Sans CJK JP, sans-serif">件</text>
<text x="787" y="540.3" font-size="19.5" letter-spacing="1.9" fill="#555" font-family="Liberation Sans, Noto Sans CJK JP, sans-serif">n=92</text>
<text x="547.0" y="703" font-size="9" font-weight="500" fill="#4a4a4a" text-anchor="end" transform="rotate(-45 547.0 703)" font-family="Liberation Sans, Noto Sans CJK JP, sans-serif">意見交換会出席学生</text>
<text x="603.8" y="703" font-size="9" font-weight="500" fill="#4a4a4a" text-anchor="end" transform="rotate(-45 603.8 703)" font-family="Liberation Sans, Noto Sans CJK JP, sans-serif">意見交換会出席議員</text>
<text x="661.3" y="703" font-size="9" font-weight="500" fill="#4a4a4a" text-anchor="end" transform="rotate(-45 661.3 703)" font-family="Liberation Sans, Noto Sans CJK JP, sans-serif">傍聴学生</text>
<text x="718.7" y="703" font-size="9" font-weight="500" fill="#4a4a4a" text-anchor="end" transform="rotate(-45 718.7 703)" font-family="Liberation Sans, Noto Sans CJK JP, sans-serif">傍聴議員</text>
<text x="776.2" y="703" font-size="9" font-weight="500" fill="#4a4a4a" text-anchor="end" transform="rotate(-45 776.2 703)" font-family="Liberation Sans, Noto Sans CJK JP, sans-serif">その他</text>
<text x="834.3" y="703" font-size="9" font-weight="500" fill="#4a4a4a" text-anchor="end" transform="rotate(-45 834.3 703)" font-family="Liberation Sans, Noto Sans CJK JP, sans-serif">不明</text>
</svg>

<!-- table -->
<div style="position:absolute;left:52.3px;top:817.0px;width:831.4000000000001px;height:369.0px;background:#f8f8f6"></div>
<div class="ln" style="left:51.3px;top:816.0px;width:833.4px;height:2px"></div>
<div class="ln" style="left:51.3px;top:1185.0px;width:833.4px;height:2px"></div>
<div class="ln" style="left:51.3px;top:914.8px;width:833.4px;height:2px"></div>
<div class="ln" style="left:51.3px;top:972.5px;width:833.4px;height:2px"></div>
<div class="ln" style="left:51.3px;top:1089.8px;width:833.4px;height:2px"></div>
<div class="ln" style="left:51.3px;top:816.0px;width:2px;height:371.0px"></div>
<div class="ln" style="left:882.7px;top:816.0px;width:2px;height:371.0px"></div>
<div class="ln" style="left:126.5px;top:816.0px;width:2px;height:371.0px"></div>
<div class="a hd" id="h0" style="left:57.5px;top:856.3px">第1部</div>
<div class="a hd" id="h1" style="left:57.5px;top:935.5px">第2部</div>
<div class="a hd" id="h2" style="left:57.5px;top:1023.6px">第3部</div>
<div class="a hd" id="h3" style="left:57.5px;top:1129.8px">全体</div>
<div class="a tb" id="t0" style="left:132.0px;top:831.60px;letter-spacing:1.016px">あまりわからなかったという意見が多かった</div>
<div class="a tb" id="t1" style="left:132.0px;top:857.35px;letter-spacing:1.081px">学生が分かるように簡素化し、内容ももう少し絞った方が良かったと反省</div>
<div class="a tb" id="t2" style="left:132.0px;top:883.75px;letter-spacing:0.700px">予定時間をオーバーしたこと、練習しなかったことも反省</div>
<div class="a tb" id="t3" style="left:132.0px;top:923.40px;letter-spacing:1.824px"><span style="letter-spacing:1px">AI</span>についての理解を深める意見が多く見られた</div>
<div class="a tb" id="t4" style="left:132.0px;top:947.40px;letter-spacing:1.025px">プレゼンも分かりやすいと好評だった</div>
<div class="a tb" id="t5" style="left:132.0px;top:984.65px;letter-spacing:1.635px">意見交換会に参加した学生からは、話しやすかった、貴重な体験ができ</div>
<div class="a tb" id="t6" style="left:132.0px;top:1010.05px;letter-spacing:2.177px">たなど好印象な意見が多かった</div>
<div class="a tb" id="t7" style="left:132.0px;top:1036.95px;letter-spacing:2.007px">参加議員からは、若者の意見を聞けたことに対する好意的な意見が多</div>
<div class="a tb" id="t8" style="left:132.0px;top:1062.15px;letter-spacing:1.800px">かった</div>
<div class="a tb" id="t9" style="left:132.0px;top:1103.00px;letter-spacing:0.724px">第3部の時間をもう少し長くする意見や、今後も続けていくべきという意見</div>
<div class="a tb" id="t10" style="left:132.0px;top:1129.35px;letter-spacing:2.667px">が複数見られた</div>
<div class="a tb" id="t11" style="left:132.0px;top:1153.85px;letter-spacing:1.233px">また、質疑の時間が欲しいという意見も見られた</div>
</body></html>
